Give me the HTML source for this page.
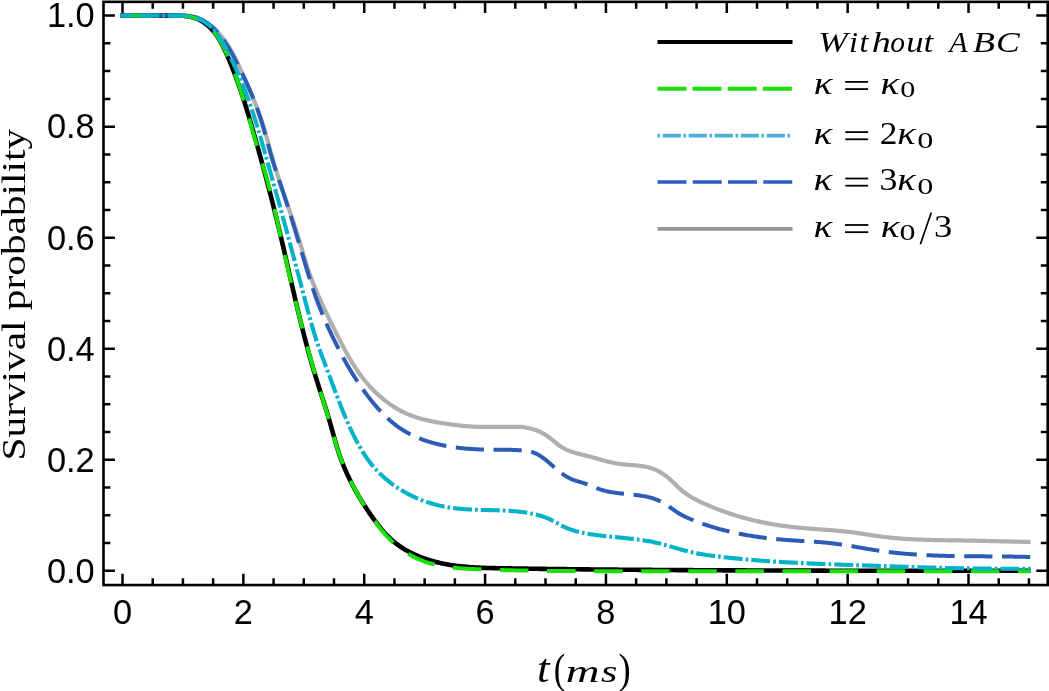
<!DOCTYPE html>
<html><head><meta charset="utf-8"><style>
html,body{margin:0;padding:0;background:#fff;}
svg{display:block;will-change:transform;} text{font-kerning:none;} .gs{opacity:0.999;}
.tk{font-family:"Liberation Sans",sans-serif;font-size:34.4px;fill:#000;}
.sf{font-family:"Liberation Serif",serif;fill:#000;}
</style></head><body>
<svg width="1049" height="691" viewBox="0 0 1049 691">
<rect width="1049" height="691" fill="#fff"/>
<g fill="none" stroke-linecap="butt" stroke-linejoin="round">
<path d="M120.40,15.60 L185.62,15.62 L186.87,15.68 L188.12,15.77 L189.36,15.90 L190.59,16.06 L191.82,16.26 L193.04,16.52 L194.25,16.82 L195.45,17.17 L196.64,17.56 L197.81,18.00 L198.98,18.49 L200.13,19.01 L201.27,19.56 L202.40,20.15 L203.51,20.78 L204.60,21.43 L205.68,22.11 L206.74,22.81 L207.79,23.54 L208.82,24.28 L209.83,25.05 L210.82,25.83 L211.79,26.62 L212.75,27.44 L213.68,28.27 L214.61,29.11 L215.51,29.97 L216.40,30.85 L217.27,31.73 L218.13,32.64 L218.97,33.55 L219.80,34.49 L220.61,35.43 L221.41,36.38 L222.20,37.35 L222.97,38.33 L223.73,39.32 L224.47,40.33 L225.20,41.34 L225.92,42.36 L226.63,43.40 L227.33,44.44 L228.02,45.50 L228.69,46.56 L229.36,47.63 L230.01,48.71 L230.66,49.80 L231.29,50.89 L231.92,52.00 L232.54,53.11 L233.14,54.22 L233.75,55.34 L234.34,56.47 L234.92,57.61 L235.50,58.74 L236.08,59.89 L236.64,61.03 L237.20,62.19 L237.75,63.34 L238.30,64.50 L238.84,65.66 L239.38,66.83 L239.92,67.99 L240.45,69.16 L240.97,70.33 L241.50,71.50 L242.02,72.67 L242.53,73.85 L243.05,75.02 L243.56,76.19 L244.07,77.36 L244.58,78.53 L245.09,79.70 L245.59,80.87 L246.10,82.03 L246.61,83.20 L247.11,84.36 L247.62,85.52 L248.12,86.68 L248.63,87.83 L249.13,88.99 L249.63,90.14 L250.13,91.30 L250.62,92.45 L251.12,93.61 L251.61,94.76 L252.10,95.91 L252.58,97.06 L253.07,98.22 L253.55,99.37 L254.03,100.52 L254.50,101.68 L254.97,102.83 L255.44,103.99 L255.91,105.15 L256.37,106.30 L256.82,107.46 L257.28,108.63 L257.72,109.79 L258.17,110.95 L258.60,112.12 L259.04,113.29 L259.47,114.46 L259.89,115.64 L260.31,116.81 L260.72,117.99 L261.12,119.18 L261.52,120.36 L261.92,121.55 L262.31,122.74 L262.69,123.94 L263.07,125.14 L263.44,126.34 L263.81,127.54 L264.18,128.75 L264.54,129.95 L264.89,131.17 L265.25,132.38 L265.60,133.59 L265.94,134.81 L266.29,136.02 L266.63,137.24 L266.97,138.46 L267.31,139.68 L267.65,140.90 L267.99,142.13 L268.32,143.35 L268.65,144.57 L268.99,145.80 L269.32,147.02 L269.66,148.24 L269.99,149.47 L270.33,150.69 L270.66,151.91 L271.00,153.14 L271.34,154.36 L271.68,155.58 L272.03,156.80 L272.37,158.02 L272.72,159.24 L273.07,160.46 L273.43,161.67 L273.79,162.89 L274.15,164.10 L274.51,165.31 L274.88,166.52 L275.25,167.73 L275.62,168.94 L275.99,170.14 L276.37,171.35 L276.75,172.55 L277.13,173.76 L277.51,174.96 L277.89,176.16 L278.28,177.36 L278.67,178.56 L279.06,179.76 L279.45,180.96 L279.85,182.16 L280.24,183.35 L280.64,184.55 L281.04,185.74 L281.44,186.94 L281.84,188.13 L282.24,189.33 L282.65,190.52 L283.05,191.71 L283.45,192.90 L283.86,194.10 L284.27,195.29 L284.67,196.48 L285.08,197.67 L285.49,198.86 L285.90,200.05 L286.31,201.24 L286.72,202.43 L287.12,203.62 L287.53,204.81 L287.94,206.00 L288.35,207.19 L288.76,208.39 L289.17,209.58 L289.58,210.77 L289.98,211.96 L290.39,213.15 L290.80,214.34 L291.20,215.53 L291.61,216.73 L292.01,217.92 L292.41,219.11 L292.81,220.31 L293.21,221.50 L293.61,222.70 L294.01,223.89 L294.41,225.09 L294.80,226.29 L295.19,227.48 L295.58,228.68 L295.97,229.88 L296.36,231.08 L296.75,232.28 L297.13,233.48 L297.51,234.69 L297.89,235.89 L298.27,237.10 L298.64,238.30 L299.02,239.51 L299.39,240.72 L299.75,241.93 L300.12,243.14 L300.48,244.35 L300.84,245.56 L301.20,246.77 L301.56,247.99 L301.92,249.20 L302.28,250.41 L302.64,251.63 L303.00,252.84 L303.36,254.06 L303.72,255.27 L304.08,256.48 L304.44,257.69 L304.81,258.91 L305.18,260.12 L305.55,261.33 L305.92,262.53 L306.29,263.74 L306.67,264.95 L307.05,266.15 L307.44,267.35 L307.83,268.56 L308.22,269.75 L308.62,270.95 L309.02,272.15 L309.43,273.34 L309.85,274.53 L310.27,275.72 L310.69,276.90 L311.13,278.09 L311.57,279.26 L312.01,280.44 L312.46,281.62 L312.92,282.79 L313.38,283.96 L313.85,285.12 L314.33,286.29 L314.81,287.45 L315.29,288.61 L315.78,289.77 L316.27,290.93 L316.77,292.08 L317.27,293.24 L317.78,294.39 L318.28,295.54 L318.80,296.69 L319.31,297.84 L319.83,298.98 L320.35,300.13 L320.87,301.27 L321.39,302.42 L321.92,303.56 L322.45,304.70 L322.98,305.85 L323.51,306.99 L324.05,308.13 L324.58,309.27 L325.12,310.41 L325.66,311.55 L326.20,312.68 L326.74,313.82 L327.29,314.96 L327.83,316.09 L328.38,317.23 L328.93,318.36 L329.48,319.50 L330.03,320.63 L330.59,321.76 L331.14,322.90 L331.70,324.03 L332.26,325.16 L332.82,326.29 L333.38,327.42 L333.94,328.55 L334.50,329.68 L335.07,330.81 L335.64,331.94 L336.20,333.06 L336.77,334.19 L337.34,335.32 L337.91,336.44 L338.49,337.57 L339.06,338.69 L339.64,339.82 L340.21,340.94 L340.79,342.06 L341.37,343.19 L341.96,344.31 L342.54,345.43 L343.13,346.54 L343.72,347.66 L344.32,348.77 L344.91,349.88 L345.52,350.99 L346.12,352.10 L346.73,353.21 L347.34,354.31 L347.96,355.41 L348.59,356.50 L349.21,357.60 L349.85,358.69 L350.49,359.77 L351.13,360.86 L351.78,361.94 L352.44,363.01 L353.10,364.08 L353.77,365.15 L354.45,366.21 L355.13,367.27 L355.82,368.32 L356.52,369.37 L357.22,370.42 L357.94,371.46 L358.66,372.49 L359.39,373.52 L360.13,374.54 L360.87,375.55 L361.63,376.56 L362.40,377.57 L363.17,378.57 L363.96,379.56 L364.75,380.54 L365.55,381.52 L366.37,382.49 L367.19,383.45 L368.02,384.41 L368.86,385.36 L369.71,386.30 L370.57,387.23 L371.43,388.16 L372.31,389.07 L373.20,389.98 L374.09,390.88 L374.99,391.77 L375.90,392.65 L376.82,393.52 L377.75,394.38 L378.69,395.23 L379.63,396.07 L380.58,396.90 L381.55,397.72 L382.52,398.54 L383.49,399.33 L384.48,400.12 L385.48,400.90 L386.48,401.67 L387.49,402.42 L388.51,403.17 L389.53,403.90 L390.57,404.62 L391.61,405.32 L392.66,406.02 L393.72,406.70 L394.78,407.37 L395.86,408.03 L396.94,408.67 L398.03,409.30 L399.12,409.91 L400.22,410.51 L401.33,411.10 L402.45,411.68 L403.58,412.23 L404.71,412.78 L405.85,413.31 L406.99,413.82 L408.15,414.32 L409.31,414.81 L410.47,415.28 L411.65,415.73 L412.83,416.17 L414.02,416.59 L415.21,416.99 L416.41,417.39 L417.61,417.77 L418.82,418.13 L420.04,418.49 L421.26,418.83 L422.48,419.16 L423.71,419.47 L424.94,419.78 L426.18,420.07 L427.42,420.36 L428.66,420.63 L429.90,420.90 L431.15,421.16 L432.40,421.40 L433.65,421.64 L434.90,421.88 L436.15,422.10 L437.41,422.32 L438.66,422.54 L439.92,422.74 L441.17,422.94 L442.43,423.14 L443.68,423.33 L444.94,423.52 L446.19,423.71 L447.44,423.89 L448.69,424.07 L449.94,424.25 L451.19,424.42 L452.44,424.59 L453.68,424.76 L454.93,424.92 L456.17,425.08 L457.42,425.23 L458.66,425.38 L459.90,425.52 L461.14,425.66 L462.39,425.79 L463.63,425.91 L464.88,426.03 L466.12,426.14 L467.37,426.25 L468.61,426.35 L469.86,426.44 L471.11,426.52 L472.36,426.59 L473.61,426.66 L474.87,426.71 L476.12,426.76 L477.38,426.80 L478.64,426.83 L479.90,426.85 L481.17,426.85 L482.43,426.85 L483.70,426.85 L484.97,426.85 L486.25,426.85 L487.52,426.85 L488.80,426.85 L490.07,426.85 L491.35,426.85 L492.63,426.85 L493.91,426.85 L495.19,426.85 L496.47,426.85 L497.75,426.85 L499.03,426.85 L500.31,426.85 L501.59,426.85 L502.87,426.85 L504.14,426.85 L505.42,426.85 L506.69,426.85 L507.97,426.85 L509.24,426.85 L510.51,426.85 L511.78,426.85 L513.04,426.85 L514.30,426.85 L515.56,426.85 L516.82,426.85 L518.07,426.85 L519.32,426.85 L520.57,426.85 L521.81,426.95 L523.05,427.11 L524.28,427.29 L525.51,427.49 L526.73,427.71 L527.95,427.96 L529.16,428.22 L530.36,428.51 L531.56,428.82 L532.75,429.15 L533.92,429.51 L535.09,429.89 L536.25,430.30 L537.40,430.74 L538.54,431.20 L539.67,431.70 L540.79,432.22 L541.89,432.77 L542.98,433.34 L544.06,433.95 L545.13,434.60 L546.18,435.27 L547.22,435.98 L548.24,436.71 L549.26,437.47 L550.26,438.25 L551.26,439.05 L552.26,439.86 L553.25,440.68 L554.24,441.49 L555.23,442.31 L556.23,443.12 L557.23,443.91 L558.24,444.69 L559.26,445.44 L560.30,446.17 L561.34,446.87 L562.41,447.54 L563.49,448.16 L564.59,448.75 L565.71,449.31 L566.84,449.84 L567.98,450.33 L569.13,450.80 L570.30,451.25 L571.48,451.67 L572.67,452.07 L573.86,452.45 L575.07,452.82 L576.28,453.17 L577.50,453.50 L578.72,453.83 L579.95,454.14 L581.17,454.45 L582.41,454.76 L583.64,455.06 L584.87,455.35 L586.11,455.65 L587.34,455.96 L588.57,456.26 L589.79,456.58 L591.01,456.90 L592.23,457.23 L593.44,457.56 L594.65,457.90 L595.86,458.24 L597.07,458.59 L598.28,458.93 L599.48,459.28 L600.69,459.62 L601.90,459.96 L603.10,460.30 L604.31,460.63 L605.52,460.96 L606.73,461.28 L607.95,461.59 L609.16,461.89 L610.38,462.18 L611.61,462.46 L612.84,462.73 L614.07,462.98 L615.32,463.21 L616.56,463.44 L617.81,463.64 L619.07,463.82 L620.34,463.99 L621.61,464.14 L622.89,464.29 L624.17,464.42 L625.45,464.54 L626.74,464.65 L628.02,464.76 L629.31,464.86 L630.60,464.97 L631.89,465.07 L633.17,465.18 L634.46,465.29 L635.74,465.40 L637.01,465.53 L638.29,465.66 L639.55,465.81 L640.81,465.97 L642.07,466.14 L643.32,466.34 L644.55,466.55 L645.78,466.78 L647.00,467.04 L648.21,467.32 L649.41,467.63 L650.59,467.97 L651.77,468.34 L652.93,468.74 L654.07,469.17 L655.20,469.64 L656.32,470.13 L657.43,470.66 L658.52,471.21 L659.60,471.79 L660.66,472.40 L661.71,473.04 L662.75,473.70 L663.77,474.38 L664.78,475.10 L665.77,475.83 L666.75,476.59 L667.72,477.37 L668.68,478.17 L669.62,479.00 L670.54,479.84 L671.46,480.69 L672.37,481.56 L673.28,482.44 L674.18,483.32 L675.08,484.21 L675.98,485.09 L676.89,485.98 L677.79,486.85 L678.71,487.72 L679.63,488.58 L680.57,489.42 L681.51,490.24 L682.48,491.04 L683.45,491.82 L684.45,492.57 L685.45,493.31 L686.48,494.02 L687.51,494.72 L688.56,495.40 L689.62,496.07 L690.69,496.72 L691.77,497.36 L692.86,497.99 L693.96,498.60 L695.07,499.20 L696.18,499.79 L697.31,500.37 L698.44,500.94 L699.58,501.49 L700.72,502.04 L701.87,502.58 L703.02,503.11 L704.18,503.64 L705.34,504.15 L706.50,504.66 L707.67,505.17 L708.84,505.67 L710.00,506.16 L711.17,506.65 L712.35,507.13 L713.52,507.61 L714.70,508.08 L715.87,508.54 L717.05,509.00 L718.23,509.45 L719.41,509.90 L720.60,510.34 L721.78,510.78 L722.97,511.21 L724.16,511.64 L725.35,512.06 L726.54,512.47 L727.74,512.88 L728.93,513.29 L730.13,513.69 L731.32,514.08 L732.52,514.47 L733.72,514.85 L734.93,515.23 L736.13,515.60 L737.34,515.96 L738.54,516.32 L739.75,516.68 L740.96,517.03 L742.17,517.37 L743.38,517.71 L744.60,518.05 L745.81,518.38 L747.03,518.70 L748.25,519.02 L749.46,519.33 L750.68,519.64 L751.91,519.94 L753.13,520.24 L754.35,520.53 L755.58,520.82 L756.80,521.10 L758.03,521.37 L759.26,521.65 L760.49,521.91 L761.72,522.17 L762.95,522.43 L764.18,522.68 L765.42,522.92 L766.65,523.16 L767.89,523.40 L769.13,523.63 L770.36,523.85 L771.60,524.07 L772.84,524.29 L774.09,524.50 L775.33,524.70 L776.57,524.90 L777.82,525.10 L779.06,525.29 L780.31,525.47 L781.55,525.65 L782.80,525.83 L784.05,526.00 L785.30,526.16 L786.55,526.32 L787.80,526.48 L789.05,526.63 L790.30,526.77 L791.56,526.92 L792.81,527.05 L794.07,527.19 L795.32,527.32 L796.58,527.44 L797.83,527.57 L799.09,527.69 L800.35,527.80 L801.61,527.92 L802.86,528.03 L804.12,528.14 L805.38,528.24 L806.64,528.35 L807.90,528.45 L809.16,528.55 L810.42,528.65 L811.68,528.75 L812.94,528.85 L814.21,528.94 L815.47,529.04 L816.73,529.13 L817.99,529.23 L819.25,529.32 L820.51,529.41 L821.77,529.51 L823.04,529.60 L824.30,529.70 L825.56,529.79 L826.82,529.89 L828.08,529.98 L829.34,530.08 L830.60,530.18 L831.86,530.28 L833.12,530.39 L834.38,530.49 L835.64,530.60 L836.90,530.71 L838.16,530.82 L839.42,530.94 L840.67,531.06 L841.93,531.18 L843.19,531.30 L844.44,531.43 L845.70,531.56 L846.95,531.70 L848.21,531.84 L849.46,531.98 L850.71,532.13 L851.96,532.28 L853.21,532.44 L854.46,532.60 L855.71,532.77 L856.96,532.94 L858.21,533.12 L859.46,533.30 L860.70,533.49 L861.95,533.68 L863.19,533.87 L864.44,534.06 L865.68,534.26 L866.93,534.45 L868.17,534.65 L869.42,534.84 L870.66,535.04 L871.91,535.23 L873.15,535.42 L874.40,535.61 L875.64,535.80 L876.89,535.98 L878.13,536.16 L879.38,536.33 L880.63,536.50 L881.88,536.66 L883.12,536.82 L884.37,536.97 L885.62,537.12 L886.88,537.26 L888.13,537.40 L889.38,537.53 L890.63,537.66 L891.88,537.79 L893.14,537.91 L894.39,538.03 L895.65,538.14 L896.90,538.25 L898.16,538.35 L899.41,538.46 L900.67,538.55 L901.93,538.65 L903.18,538.74 L904.44,538.82 L905.70,538.91 L906.96,538.99 L908.22,539.06 L909.48,539.13 L910.74,539.21 L912.00,539.27 L913.26,539.34 L914.52,539.40 L915.78,539.46 L917.04,539.51 L918.30,539.57 L919.56,539.62 L920.83,539.67 L922.09,539.71 L923.35,539.76 L924.61,539.80 L925.88,539.84 L927.14,539.88 L928.40,539.91 L929.67,539.95 L930.93,539.98 L932.19,540.01 L933.46,540.04 L934.72,540.07 L935.98,540.09 L937.25,540.12 L938.51,540.14 L939.78,540.17 L941.04,540.19 L942.30,540.21 L943.57,540.23 L944.83,540.25 L946.10,540.27 L947.36,540.29 L948.62,540.30 L949.89,540.32 L951.15,540.34 L952.42,540.36 L953.68,540.37 L954.94,540.39 L956.21,540.40 L957.47,540.42 L958.73,540.44 L960.00,540.45 L961.26,540.47 L962.52,540.49 L963.78,540.51 L965.05,540.53 L966.31,540.55 L967.57,540.57 L968.83,540.59 L970.09,540.61 L971.35,540.63 L972.61,540.66 L973.87,540.68 L975.13,540.71 L976.39,540.73 L977.65,540.76 L978.91,540.78 L980.17,540.81 L981.43,540.84 L982.69,540.87 L983.95,540.90 L985.21,540.93 L986.47,540.95 L987.73,540.98 L988.99,541.01 L990.25,541.05 L991.50,541.08 L992.76,541.11 L994.02,541.14 L995.28,541.17 L996.54,541.20 L997.80,541.23 L999.06,541.26 L1000.32,541.30 L1001.58,541.33 L1002.84,541.36 L1004.10,541.39 L1005.36,541.42 L1006.62,541.46 L1007.88,541.49 L1009.14,541.52 L1010.40,541.55 L1011.66,541.58 L1012.92,541.61 L1014.18,541.64 L1015.44,541.67 L1016.70,541.70 L1017.96,541.73 L1019.23,541.76 L1020.49,541.79 L1021.75,541.82 L1023.01,541.85 L1024.28,541.87 L1025.54,541.90 L1026.81,541.93 L1028.07,541.95 L1029.33,541.98 L1030.60,542.00" stroke="#afafaf" stroke-width="4.2"/>
<path d="M120.40,15.60 L180.43,15.64 L181.82,15.72 L183.21,15.81 L184.59,15.94 L185.97,16.09 L187.34,16.29 L188.70,16.52 L190.06,16.79 L191.39,17.09 L192.72,17.44 L194.03,17.82 L195.32,18.25 L196.59,18.71 L197.84,19.21 L199.06,19.75 L200.25,20.33 L201.42,20.96 L202.56,21.62 L203.67,22.32 L204.76,23.05 L205.81,23.83 L206.84,24.63 L207.85,25.48 L208.83,26.35 L209.79,27.25 L210.72,28.19 L211.63,29.15 L212.52,30.15 L213.39,31.17 L214.24,32.21 L215.06,33.28 L215.87,34.37 L216.66,35.49 L217.43,36.62 L218.18,37.78 L218.92,38.96 L219.64,40.15 L220.34,41.36 L221.03,42.58 L221.71,43.82 L222.37,45.08 L223.02,46.34 L223.65,47.62 L224.28,48.90 L224.89,50.19 L225.49,51.49 L226.09,52.80 L226.67,54.11 L227.25,55.43 L227.81,56.75 L228.37,58.07 L228.93,59.39 L229.48,60.72 L230.02,62.04 L230.56,63.35 L231.09,64.67 L231.61,65.99 L232.14,67.30 L232.65,68.62 L233.16,69.93 L233.67,71.25 L234.17,72.56 L234.67,73.87 L235.16,75.18 L235.65,76.49 L236.14,77.80 L236.62,79.10 L237.09,80.41 L237.56,81.72 L238.03,83.02 L238.49,84.33 L238.95,85.63 L239.41,86.94 L239.86,88.24 L240.31,89.54 L240.75,90.85 L241.19,92.15 L241.63,93.45 L242.06,94.75 L242.49,96.05 L242.92,97.36 L243.35,98.66 L243.77,99.96 L244.19,101.26 L244.60,102.56 L245.01,103.86 L245.42,105.16 L245.83,106.46 L246.24,107.76 L246.64,109.06 L247.04,110.36 L247.44,111.66 L247.83,112.96 L248.23,114.27 L248.62,115.57 L249.01,116.87 L249.40,118.17 L249.79,119.47 L250.17,120.78 L250.55,122.08 L250.94,123.38 L251.32,124.69 L251.70,125.99 L252.07,127.30 L252.45,128.61 L252.83,129.91 L253.20,131.22 L253.57,132.53 L253.95,133.84 L254.32,135.15 L254.69,136.46 L255.06,137.77 L255.43,139.08 L255.80,140.39 L256.17,141.71 L256.54,143.02 L256.91,144.34 L257.28,145.66 L257.65,146.98 L258.02,148.29 L258.38,149.61 L258.75,150.94 L259.12,152.26 L259.48,153.58 L259.85,154.90 L260.21,156.23 L260.58,157.55 L260.94,158.88 L261.31,160.20 L261.67,161.53 L262.03,162.86 L262.39,164.19 L262.75,165.51 L263.12,166.84 L263.48,168.17 L263.84,169.51 L264.19,170.84 L264.55,172.17 L264.91,173.50 L265.27,174.84 L265.63,176.17 L265.98,177.50 L266.34,178.84 L266.69,180.18 L267.04,181.51 L267.40,182.85 L267.75,184.18 L268.10,185.52 L268.45,186.86 L268.80,188.20 L269.15,189.54 L269.50,190.88 L269.85,192.22 L270.20,193.56 L270.54,194.90 L270.89,196.24 L271.23,197.58 L271.58,198.92 L271.92,200.26 L272.26,201.60 L272.60,202.95 L272.94,204.29 L273.28,205.63 L273.62,206.97 L273.96,208.32 L274.29,209.66 L274.63,211.00 L274.96,212.35 L275.30,213.69 L275.63,215.04 L275.96,216.38 L276.29,217.72 L276.62,219.07 L276.95,220.41 L277.28,221.76 L277.60,223.10 L277.93,224.45 L278.25,225.79 L278.57,227.13 L278.90,228.48 L279.22,229.82 L279.54,231.17 L279.86,232.51 L280.18,233.86 L280.49,235.20 L280.81,236.55 L281.13,237.89 L281.44,239.23 L281.76,240.58 L282.07,241.92 L282.38,243.27 L282.70,244.61 L283.01,245.96 L283.32,247.30 L283.63,248.64 L283.94,249.99 L284.25,251.33 L284.56,252.68 L284.87,254.02 L285.18,255.36 L285.49,256.71 L285.79,258.05 L286.10,259.40 L286.41,260.74 L286.72,262.08 L287.02,263.43 L287.33,264.77 L287.64,266.11 L287.94,267.46 L288.25,268.80 L288.56,270.14 L288.86,271.48 L289.17,272.83 L289.48,274.17 L289.78,275.51 L290.09,276.85 L290.40,278.20 L290.70,279.54 L291.01,280.88 L291.32,282.22 L291.63,283.56 L291.94,284.90 L292.24,286.24 L292.55,287.59 L292.86,288.93 L293.17,290.27 L293.48,291.61 L293.79,292.95 L294.10,294.29 L294.42,295.63 L294.73,296.97 L295.04,298.31 L295.36,299.65 L295.67,300.99 L295.98,302.32 L296.30,303.66 L296.62,305.00 L296.93,306.34 L297.25,307.68 L297.57,309.02 L297.89,310.35 L298.21,311.69 L298.53,313.03 L298.86,314.36 L299.18,315.70 L299.50,317.04 L299.83,318.37 L300.16,319.71 L300.49,321.04 L300.81,322.38 L301.15,323.71 L301.48,325.05 L301.81,326.38 L302.14,327.72 L302.48,329.05 L302.82,330.38 L303.15,331.72 L303.49,333.05 L303.84,334.38 L304.18,335.71 L304.52,337.05 L304.87,338.38 L305.22,339.71 L305.56,341.04 L305.92,342.37 L306.27,343.70 L306.62,345.03 L306.98,346.36 L307.33,347.69 L307.69,349.02 L308.05,350.35 L308.42,351.68 L308.78,353.00 L309.15,354.33 L309.52,355.66 L309.89,356.98 L310.26,358.31 L310.63,359.64 L311.01,360.96 L311.39,362.29 L311.77,363.61 L312.15,364.94 L312.54,366.26 L312.93,367.58 L313.32,368.91 L313.71,370.23 L314.10,371.55 L314.50,372.87 L314.90,374.19 L315.30,375.52 L315.70,376.84 L316.11,378.16 L316.52,379.48 L316.93,380.80 L317.34,382.11 L317.76,383.43 L318.17,384.75 L318.59,386.07 L319.01,387.39 L319.43,388.70 L319.85,390.02 L320.28,391.34 L320.70,392.66 L321.12,393.97 L321.55,395.29 L321.97,396.61 L322.39,397.92 L322.82,399.24 L323.24,400.56 L323.66,401.88 L324.08,403.20 L324.50,404.51 L324.92,405.83 L325.33,407.15 L325.75,408.47 L326.16,409.79 L326.57,411.11 L326.98,412.43 L327.39,413.75 L327.79,415.07 L328.19,416.40 L328.59,417.72 L328.98,419.04 L329.37,420.37 L329.76,421.69 L330.14,423.02 L330.52,424.35 L330.89,425.67 L331.27,427.00 L331.64,428.33 L332.01,429.66 L332.38,430.98 L332.75,432.31 L333.11,433.64 L333.48,434.97 L333.85,436.29 L334.22,437.62 L334.60,438.94 L334.97,440.27 L335.35,441.59 L335.73,442.91 L336.12,444.23 L336.51,445.55 L336.91,446.86 L337.31,448.18 L337.72,449.49 L338.13,450.80 L338.55,452.10 L338.98,453.41 L339.42,454.71 L339.87,456.00 L340.32,457.30 L340.79,458.59 L341.26,459.88 L341.75,461.17 L342.24,462.45 L342.74,463.73 L343.25,465.00 L343.77,466.28 L344.30,467.55 L344.83,468.81 L345.38,470.08 L345.93,471.34 L346.49,472.59 L347.06,473.85 L347.63,475.10 L348.22,476.35 L348.81,477.59 L349.41,478.83 L350.01,480.07 L350.63,481.30 L351.25,482.53 L351.88,483.76 L352.51,484.99 L353.16,486.21 L353.81,487.43 L354.47,488.64 L355.13,489.85 L355.80,491.06 L356.48,492.27 L357.16,493.47 L357.85,494.66 L358.55,495.86 L359.25,497.05 L359.96,498.24 L360.67,499.42 L361.39,500.60 L362.12,501.78 L362.85,502.96 L363.59,504.13 L364.33,505.30 L365.08,506.46 L365.84,507.62 L366.60,508.78 L367.36,509.93 L368.13,511.08 L368.91,512.23 L369.68,513.37 L370.47,514.51 L371.26,515.65 L372.05,516.78 L372.85,517.91 L373.66,519.03 L374.47,520.15 L375.28,521.27 L376.11,522.37 L376.94,523.47 L377.78,524.57 L378.62,525.65 L379.48,526.73 L380.34,527.80 L381.22,528.86 L382.10,529.90 L383.00,530.94 L383.90,531.97 L384.82,532.99 L385.75,533.99 L386.69,534.98 L387.64,535.96 L388.60,536.92 L389.58,537.87 L390.57,538.81 L391.58,539.73 L392.60,540.64 L393.64,541.53 L394.69,542.40 L395.76,543.25 L396.84,544.09 L397.94,544.91 L399.06,545.72 L400.19,546.50 L401.33,547.27 L402.49,548.02 L403.66,548.75 L404.84,549.47 L406.04,550.17 L407.25,550.85 L408.47,551.52 L409.70,552.17 L410.93,552.80 L412.18,553.42 L413.44,554.02 L414.71,554.60 L415.98,555.17 L417.26,555.73 L418.55,556.27 L419.84,556.79 L421.14,557.30 L422.45,557.79 L423.75,558.27 L425.07,558.73 L426.38,559.18 L427.70,559.61 L429.02,560.03 L430.35,560.43 L431.67,560.82 L433.00,561.20 L434.33,561.56 L435.66,561.91 L437.00,562.25 L438.34,562.57 L439.67,562.88 L441.01,563.18 L442.36,563.47 L443.70,563.74 L445.05,564.01 L446.39,564.26 L447.74,564.50 L449.09,564.73 L450.45,564.95 L451.80,565.16 L453.16,565.36 L454.51,565.56 L455.87,565.74 L457.23,565.91 L458.59,566.07 L459.96,566.23 L461.32,566.38 L462.68,566.52 L464.05,566.65 L465.42,566.77 L466.79,566.89 L468.15,567.00 L469.53,567.11 L470.90,567.20 L472.27,567.29 L473.64,567.38 L475.02,567.46 L476.39,567.53 L477.77,567.60 L479.14,567.67 L480.52,567.73 L481.90,567.78 L483.27,567.83 L484.65,567.88 L486.03,567.93 L487.41,567.97 L488.79,568.00 L490.17,568.04 L491.55,568.07 L492.93,568.10 L494.31,568.13 L495.69,568.16 L497.08,568.19 L498.46,568.21 L499.84,568.23 L501.22,568.26 L502.60,568.28 L503.98,568.30 L505.36,568.33 L506.74,568.35 L508.13,568.37 L509.51,568.39 L510.89,568.42 L512.27,568.44 L513.65,568.46 L515.03,568.48 L516.41,568.50 L517.79,568.52 L519.17,568.54 L520.55,568.57 L521.93,568.59 L523.31,568.61 L524.69,568.63 L526.07,568.65 L527.45,568.67 L528.83,568.69 L530.21,568.71 L531.59,568.73 L532.97,568.74 L534.35,568.76 L535.73,568.78 L537.11,568.80 L538.49,568.82 L539.87,568.84 L541.25,568.86 L542.63,568.88 L544.01,568.89 L545.39,568.91 L546.77,568.93 L548.15,568.95 L549.53,568.97 L550.91,568.98 L552.29,569.00 L553.67,569.02 L555.05,569.03 L556.43,569.05 L557.81,569.07 L559.18,569.08 L560.56,569.10 L561.94,569.12 L563.32,569.13 L564.70,569.15 L566.08,569.16 L567.46,569.18 L568.84,569.20 L570.22,569.21 L571.59,569.23 L572.97,569.24 L574.35,569.26 L575.73,569.27 L577.11,569.29 L578.49,569.30 L579.87,569.32 L581.25,569.33 L582.62,569.34 L584.00,569.36 L585.38,569.37 L586.76,569.39 L588.14,569.40 L589.52,569.41 L590.89,569.43 L592.27,569.44 L593.65,569.45 L595.03,569.47 L596.41,569.48 L597.79,569.49 L599.16,569.51 L600.54,569.52 L601.92,569.53 L603.30,569.54 L604.68,569.56 L606.05,569.57 L607.43,569.58 L608.81,569.59 L610.19,569.61 L611.57,569.62 L612.94,569.63 L614.32,569.64 L615.70,569.65 L617.08,569.66 L618.46,569.68 L619.83,569.69 L621.21,569.70 L622.59,569.71 L623.97,569.72 L625.35,569.73 L626.72,569.74 L628.10,569.75 L629.48,569.76 L630.86,569.77 L632.24,569.78 L633.61,569.79 L634.99,569.81 L636.37,569.82 L637.75,569.83 L639.12,569.84 L640.50,569.85 L641.88,569.86 L643.26,569.87 L644.64,569.88 L646.01,569.88 L647.39,569.89 L648.77,569.90 L650.15,569.91 L651.52,569.92 L652.90,569.93 L654.28,569.94 L655.66,569.95 L657.04,569.96 L658.41,569.97 L659.79,569.98 L661.17,569.99 L662.55,569.99 L663.92,570.00 L665.30,570.01 L666.68,570.02 L668.06,570.03 L669.44,570.04 L670.81,570.05 L672.19,570.05 L673.57,570.06 L674.95,570.07 L676.32,570.08 L677.70,570.09 L679.08,570.10 L680.46,570.10 L681.84,570.11 L683.21,570.12 L684.59,570.13 L685.97,570.14 L687.35,570.14 L688.73,570.15 L690.10,570.16 L691.48,570.17 L692.86,570.17 L694.24,570.18 L695.62,570.19 L696.99,570.20 L698.37,570.20 L699.75,570.21 L701.13,570.22 L702.51,570.22 L703.89,570.23 L705.26,570.24 L706.64,570.25 L708.02,570.25 L709.40,570.26 L710.78,570.27 L712.15,570.27 L713.53,570.28 L714.91,570.29 L716.29,570.29 L717.67,570.30 L719.05,570.31 L720.42,570.31 L721.80,570.32 L723.18,570.33 L724.56,570.33 L725.94,570.34 L727.32,570.34 L728.69,570.35 L730.07,570.36 L731.45,570.36 L732.83,570.37 L734.21,570.38 L735.59,570.38 L736.96,570.39 L738.34,570.39 L739.72,570.40 L741.10,570.40 L742.48,570.41 L743.86,570.42 L745.23,570.42 L746.61,570.43 L747.99,570.43 L749.37,570.44 L750.75,570.44 L752.13,570.45 L753.50,570.45 L754.88,570.46 L756.26,570.47 L757.64,570.47 L759.02,570.48 L760.40,570.48 L761.78,570.49 L763.15,570.49 L764.53,570.50 L765.91,570.50 L767.29,570.51 L768.67,570.51 L770.05,570.52 L771.43,570.52 L772.80,570.53 L774.18,570.53 L775.56,570.53 L776.94,570.54 L778.32,570.54 L779.70,570.55 L781.08,570.55 L782.45,570.56 L783.83,570.56 L785.21,570.57 L786.59,570.57 L787.97,570.57 L789.35,570.58 L790.73,570.58 L792.11,570.59 L793.48,570.59 L794.86,570.60 L796.24,570.60 L797.62,570.60 L799.00,570.61 L800.38,570.61 L801.76,570.61 L803.13,570.62 L804.51,570.62 L805.89,570.63 L807.27,570.63 L808.65,570.63 L810.03,570.64 L811.41,570.64 L812.79,570.64 L814.16,570.65 L815.54,570.65 L816.92,570.65 L818.30,570.66 L819.68,570.66 L821.06,570.66 L822.44,570.67 L823.82,570.67 L825.19,570.67 L826.57,570.68 L827.95,570.68 L829.33,570.68 L830.71,570.69 L832.09,570.69 L833.47,570.69 L834.85,570.69 L836.22,570.70 L837.60,570.70 L838.98,570.70 L840.36,570.71 L841.74,570.71 L843.12,570.71 L844.50,570.71 L845.88,570.72 L847.26,570.72 L848.63,570.72 L850.01,570.72 L851.39,570.73 L852.77,570.73 L854.15,570.73 L855.53,570.73 L856.91,570.74 L858.29,570.74 L859.66,570.74 L861.04,570.74 L862.42,570.75 L863.80,570.75 L865.18,570.75 L866.56,570.75 L867.94,570.75 L869.32,570.76 L870.69,570.76 L872.07,570.76 L873.45,570.76 L874.83,570.76 L876.21,570.77 L877.59,570.77 L878.97,570.77 L880.35,570.77 L881.72,570.77 L883.10,570.77 L884.48,570.78 L885.86,570.78 L887.24,570.78 L888.62,570.78 L890.00,570.78 L891.38,570.78 L892.76,570.79 L894.13,570.79 L895.51,570.79 L896.89,570.79 L898.27,570.79 L899.65,570.79 L901.03,570.79 L902.41,570.79 L903.78,570.80 L905.16,570.80 L906.54,570.80 L907.92,570.80 L909.30,570.80 L910.68,570.80 L912.06,570.80 L913.44,570.80 L914.81,570.80 L916.19,570.81 L917.57,570.81 L918.95,570.81 L920.33,570.81 L921.71,570.81 L923.09,570.81 L924.47,570.81 L925.84,570.81 L927.22,570.81 L928.60,570.81 L929.98,570.81 L931.36,570.81 L932.74,570.81 L934.12,570.82 L935.49,570.82 L936.87,570.82 L938.25,570.82 L939.63,570.82 L941.01,570.82 L942.39,570.82 L943.77,570.82 L945.14,570.82 L946.52,570.82 L947.90,570.82 L949.28,570.82 L950.66,570.82 L952.04,570.82 L953.42,570.82 L954.79,570.82 L956.17,570.82 L957.55,570.82 L958.93,570.82 L960.31,570.82 L961.69,570.82 L963.07,570.82 L964.44,570.82 L965.82,570.82 L967.20,570.82 L968.58,570.82 L969.96,570.82 L971.34,570.82 L972.72,570.82 L974.09,570.82 L975.47,570.82 L976.85,570.82 L978.23,570.82 L979.61,570.82 L980.99,570.82 L982.36,570.82 L983.74,570.82 L985.12,570.82 L986.50,570.82 L987.88,570.82 L989.26,570.82 L990.63,570.82 L992.01,570.82 L993.39,570.82 L994.77,570.82 L996.15,570.82 L997.53,570.82 L998.90,570.82 L1000.28,570.82 L1001.66,570.82 L1003.04,570.82 L1004.42,570.82 L1005.79,570.82 L1007.17,570.82 L1008.55,570.82 L1009.93,570.82 L1011.31,570.82 L1012.69,570.82 L1014.06,570.82 L1015.44,570.82 L1016.82,570.82 L1018.20,570.82 L1019.58,570.82 L1020.95,570.82 L1022.33,570.82 L1023.71,570.82 L1025.09,570.82 L1026.47,570.82 L1027.84,570.82 L1029.22,570.82 L1030.60,570.80" stroke="#000" stroke-width="4.6"/>
<path d="M120.40,15.60 L184.77,15.62 L186.04,15.68 L187.31,15.77 L188.57,15.88 L189.83,16.04 L191.08,16.23 L192.33,16.47 L193.57,16.75 L194.80,17.08 L196.02,17.45 L197.23,17.87 L198.43,18.32 L199.62,18.81 L200.80,19.34 L201.96,19.91 L203.10,20.50 L204.22,21.13 L205.33,21.79 L206.42,22.48 L207.48,23.19 L208.53,23.93 L209.54,24.69 L210.54,25.47 L211.52,26.28 L212.47,27.11 L213.41,27.95 L214.32,28.82 L215.22,29.71 L216.09,30.61 L216.95,31.54 L217.79,32.48 L218.62,33.43 L219.43,34.40 L220.22,35.39 L221.00,36.39 L221.76,37.41 L222.52,38.43 L223.25,39.47 L223.98,40.52 L224.69,41.58 L225.39,42.65 L226.08,43.73 L226.77,44.82 L227.44,45.92 L228.10,47.02 L228.76,48.13 L229.41,49.25 L230.05,50.37 L230.68,51.49 L231.31,52.62 L231.94,53.75 L232.55,54.88 L233.17,56.01 L233.78,57.15 L234.39,58.28 L235.00,59.42 L235.60,60.56 L236.20,61.70 L236.80,62.83 L237.39,63.97 L237.98,65.11 L238.56,66.25 L239.14,67.40 L239.72,68.54 L240.30,69.68 L240.87,70.83 L241.44,71.98 L242.00,73.12 L242.56,74.27 L243.11,75.42 L243.67,76.57 L244.21,77.72 L244.76,78.88 L245.30,80.03 L245.84,81.19 L246.37,82.35 L246.90,83.50 L247.42,84.66 L247.94,85.82 L248.46,86.99 L248.97,88.15 L249.48,89.32 L249.98,90.49 L250.48,91.65 L250.97,92.82 L251.46,94.00 L251.95,95.17 L252.43,96.35 L252.91,97.52 L253.38,98.70 L253.85,99.88 L254.31,101.07 L254.77,102.25 L255.23,103.44 L255.68,104.62 L256.12,105.81 L256.56,107.01 L257.00,108.20 L257.43,109.39 L257.85,110.59 L258.27,111.79 L258.69,112.99 L259.10,114.20 L259.51,115.40 L259.91,116.61 L260.31,117.82 L260.70,119.04 L261.08,120.25 L261.46,121.47 L261.84,122.69 L262.21,123.91 L262.58,125.13 L262.94,126.36 L263.30,127.58 L263.66,128.81 L264.01,130.04 L264.36,131.27 L264.71,132.50 L265.06,133.74 L265.40,134.97 L265.75,136.21 L266.09,137.44 L266.43,138.68 L266.77,139.91 L267.11,141.15 L267.45,142.38 L267.79,143.62 L268.13,144.85 L268.47,146.09 L268.81,147.32 L269.15,148.56 L269.50,149.79 L269.84,151.03 L270.19,152.26 L270.54,153.49 L270.90,154.72 L271.26,155.95 L271.62,157.17 L271.98,158.40 L272.35,159.62 L272.72,160.84 L273.10,162.06 L273.48,163.28 L273.86,164.50 L274.25,165.71 L274.64,166.92 L275.03,168.14 L275.43,169.35 L275.83,170.56 L276.23,171.77 L276.63,172.97 L277.03,174.18 L277.44,175.39 L277.85,176.59 L278.26,177.80 L278.66,179.01 L279.07,180.21 L279.48,181.42 L279.89,182.62 L280.30,183.83 L280.71,185.03 L281.12,186.24 L281.53,187.45 L281.94,188.65 L282.34,189.86 L282.75,191.07 L283.15,192.28 L283.55,193.49 L283.95,194.70 L284.35,195.91 L284.75,197.12 L285.14,198.33 L285.54,199.55 L285.93,200.76 L286.32,201.98 L286.71,203.19 L287.10,204.41 L287.49,205.62 L287.88,206.84 L288.26,208.06 L288.65,209.28 L289.03,210.50 L289.41,211.71 L289.79,212.93 L290.17,214.15 L290.55,215.37 L290.93,216.59 L291.31,217.81 L291.69,219.04 L292.06,220.26 L292.44,221.48 L292.81,222.70 L293.18,223.92 L293.56,225.15 L293.93,226.37 L294.30,227.59 L294.67,228.82 L295.04,230.04 L295.41,231.26 L295.78,232.49 L296.15,233.71 L296.52,234.94 L296.89,236.16 L297.25,237.39 L297.62,238.61 L297.99,239.83 L298.35,241.06 L298.72,242.28 L299.09,243.51 L299.45,244.73 L299.82,245.96 L300.18,247.18 L300.55,248.40 L300.91,249.63 L301.28,250.85 L301.64,252.08 L302.01,253.30 L302.37,254.52 L302.74,255.75 L303.11,256.97 L303.47,258.19 L303.84,259.41 L304.20,260.63 L304.57,261.86 L304.93,263.08 L305.30,264.30 L305.67,265.52 L306.04,266.74 L306.40,267.96 L306.77,269.18 L307.14,270.40 L307.51,271.62 L307.88,272.83 L308.25,274.05 L308.63,275.27 L309.00,276.49 L309.38,277.70 L309.76,278.92 L310.14,280.13 L310.52,281.34 L310.91,282.56 L311.30,283.77 L311.69,284.98 L312.08,286.19 L312.48,287.40 L312.87,288.61 L313.28,289.82 L313.68,291.02 L314.09,292.23 L314.51,293.43 L314.93,294.64 L315.35,295.84 L315.77,297.04 L316.20,298.24 L316.64,299.44 L317.08,300.64 L317.52,301.84 L317.97,303.03 L318.43,304.23 L318.89,305.42 L319.35,306.61 L319.81,307.80 L320.28,308.99 L320.76,310.18 L321.24,311.37 L321.72,312.55 L322.21,313.74 L322.70,314.92 L323.19,316.10 L323.69,317.28 L324.20,318.46 L324.70,319.64 L325.21,320.81 L325.72,321.99 L326.24,323.16 L326.76,324.33 L327.29,325.50 L327.81,326.67 L328.34,327.83 L328.88,329.00 L329.41,330.16 L329.95,331.32 L330.50,332.48 L331.04,333.64 L331.59,334.80 L332.14,335.95 L332.70,337.10 L333.25,338.26 L333.81,339.40 L334.37,340.55 L334.94,341.70 L335.51,342.84 L336.08,343.98 L336.65,345.12 L337.23,346.26 L337.80,347.40 L338.38,348.53 L338.97,349.66 L339.56,350.79 L340.15,351.92 L340.74,353.05 L341.33,354.17 L341.93,355.29 L342.54,356.41 L343.14,357.53 L343.75,358.64 L344.36,359.76 L344.98,360.87 L345.60,361.98 L346.23,363.08 L346.85,364.19 L347.49,365.29 L348.12,366.39 L348.76,367.48 L349.41,368.58 L350.05,369.67 L350.71,370.76 L351.36,371.85 L352.03,372.93 L352.69,374.01 L353.36,375.09 L354.04,376.17 L354.72,377.24 L355.40,378.31 L356.09,379.38 L356.78,380.45 L357.48,381.51 L358.19,382.57 L358.90,383.63 L359.61,384.69 L360.33,385.74 L361.06,386.79 L361.79,387.84 L362.53,388.88 L363.27,389.92 L364.02,390.96 L364.77,392.00 L365.53,393.03 L366.29,394.06 L367.06,395.08 L367.84,396.11 L368.62,397.13 L369.41,398.14 L370.21,399.16 L371.01,400.17 L371.82,401.17 L372.63,402.18 L373.46,403.17 L374.28,404.17 L375.12,405.15 L375.96,406.14 L376.81,407.11 L377.66,408.08 L378.53,409.04 L379.40,410.00 L380.27,410.95 L381.16,411.89 L382.05,412.82 L382.95,413.74 L383.85,414.66 L384.77,415.57 L385.69,416.46 L386.62,417.35 L387.56,418.22 L388.50,419.09 L389.45,419.94 L390.42,420.79 L391.38,421.62 L392.36,422.44 L393.35,423.24 L394.34,424.04 L395.35,424.82 L396.36,425.59 L397.38,426.34 L398.41,427.08 L399.44,427.80 L400.49,428.51 L401.54,429.21 L402.61,429.89 L403.68,430.55 L404.76,431.21 L405.85,431.84 L406.95,432.47 L408.05,433.07 L409.16,433.67 L410.28,434.25 L411.41,434.82 L412.54,435.37 L413.68,435.91 L414.83,436.44 L415.98,436.96 L417.14,437.46 L418.31,437.95 L419.48,438.42 L420.66,438.89 L421.85,439.34 L423.04,439.78 L424.24,440.21 L425.44,440.62 L426.64,441.03 L427.86,441.42 L429.07,441.80 L430.29,442.17 L431.52,442.53 L432.75,442.88 L433.98,443.21 L435.22,443.54 L436.46,443.86 L437.71,444.16 L438.96,444.46 L440.21,444.74 L441.47,445.02 L442.73,445.28 L443.99,445.54 L445.25,445.79 L446.52,446.02 L447.79,446.25 L449.06,446.47 L450.34,446.68 L451.61,446.88 L452.89,447.07 L454.17,447.26 L455.45,447.43 L456.73,447.60 L458.02,447.76 L459.30,447.91 L460.58,448.06 L461.87,448.19 L463.15,448.32 L464.44,448.45 L465.73,448.56 L467.01,448.67 L468.30,448.77 L469.58,448.86 L470.87,448.95 L472.15,449.03 L473.44,449.11 L474.72,449.17 L476.00,449.24 L477.28,449.29 L478.56,449.34 L479.84,449.39 L481.11,449.43 L482.38,449.47 L483.65,449.50 L484.92,449.52 L486.19,449.55 L487.46,449.57 L488.73,449.58 L489.99,449.60 L491.26,449.61 L492.52,449.62 L493.79,449.63 L495.05,449.64 L496.31,449.64 L497.58,449.65 L498.84,449.66 L500.11,449.67 L501.37,449.68 L502.64,449.69 L503.90,449.71 L505.17,449.73 L506.44,449.75 L507.71,449.77 L508.98,449.80 L510.26,449.83 L511.53,449.87 L512.81,449.91 L514.09,449.96 L515.37,450.01 L516.65,450.07 L517.94,450.14 L519.23,450.22 L520.52,450.30 L521.82,450.39 L523.11,450.50 L524.40,450.62 L525.69,450.77 L526.96,450.95 L528.23,451.16 L529.48,451.40 L530.72,451.69 L531.93,452.02 L533.13,452.40 L534.30,452.83 L535.45,453.32 L536.58,453.84 L537.70,454.41 L538.79,455.02 L539.87,455.67 L540.93,456.35 L541.98,457.06 L543.02,457.80 L544.04,458.57 L545.05,459.35 L546.06,460.16 L547.05,460.98 L548.04,461.82 L549.02,462.67 L550.00,463.52 L550.97,464.38 L551.94,465.25 L552.91,466.11 L553.88,466.96 L554.85,467.81 L555.83,468.65 L556.80,469.48 L557.78,470.30 L558.77,471.11 L559.77,471.90 L560.77,472.67 L561.78,473.43 L562.80,474.16 L563.83,474.87 L564.88,475.56 L565.94,476.22 L567.01,476.86 L568.10,477.47 L569.21,478.04 L570.33,478.58 L571.47,479.09 L572.64,479.57 L573.82,480.01 L575.01,480.43 L576.22,480.83 L577.43,481.22 L578.66,481.60 L579.89,481.96 L581.12,482.33 L582.35,482.70 L583.58,483.08 L584.81,483.47 L586.03,483.87 L587.24,484.30 L588.45,484.74 L589.64,485.21 L590.83,485.69 L592.02,486.18 L593.20,486.67 L594.38,487.16 L595.57,487.65 L596.75,488.13 L597.94,488.59 L599.14,489.03 L600.34,489.45 L601.55,489.84 L602.77,490.21 L604.00,490.55 L605.24,490.87 L606.48,491.17 L607.73,491.45 L608.99,491.71 L610.25,491.95 L611.51,492.18 L612.78,492.39 L614.06,492.59 L615.34,492.77 L616.62,492.95 L617.90,493.11 L619.19,493.27 L620.48,493.41 L621.77,493.55 L623.06,493.69 L624.36,493.82 L625.65,493.94 L626.94,494.07 L628.24,494.19 L629.53,494.32 L630.82,494.45 L632.10,494.58 L633.39,494.71 L634.67,494.85 L635.95,495.00 L637.23,495.16 L638.50,495.32 L639.77,495.50 L641.03,495.68 L642.29,495.88 L643.54,496.10 L644.78,496.33 L646.02,496.58 L647.25,496.84 L648.47,497.12 L649.69,497.43 L650.89,497.75 L652.09,498.10 L653.28,498.47 L654.46,498.87 L655.62,499.29 L656.78,499.74 L657.93,500.22 L659.06,500.73 L660.18,501.27 L661.29,501.84 L662.39,502.45 L663.48,503.08 L664.56,503.73 L665.63,504.41 L666.70,505.10 L667.76,505.81 L668.81,506.53 L669.87,507.26 L670.92,507.99 L671.97,508.72 L673.03,509.46 L674.08,510.19 L675.14,510.91 L676.21,511.63 L677.28,512.33 L678.36,513.01 L679.45,513.67 L680.55,514.31 L681.65,514.93 L682.77,515.53 L683.90,516.11 L685.03,516.67 L686.18,517.22 L687.32,517.75 L688.48,518.27 L689.64,518.77 L690.81,519.26 L691.98,519.75 L693.15,520.22 L694.33,520.69 L695.51,521.15 L696.69,521.61 L697.87,522.06 L699.06,522.50 L700.25,522.94 L701.45,523.37 L702.64,523.79 L703.84,524.20 L705.04,524.62 L706.25,525.02 L707.45,525.42 L708.66,525.81 L709.87,526.20 L711.09,526.58 L712.30,526.95 L713.52,527.32 L714.74,527.68 L715.96,528.04 L717.19,528.39 L718.42,528.73 L719.65,529.07 L720.88,529.40 L722.11,529.73 L723.34,530.05 L724.58,530.37 L725.82,530.68 L727.06,530.99 L728.30,531.29 L729.54,531.58 L730.79,531.87 L732.04,532.15 L733.29,532.43 L734.54,532.71 L735.79,532.97 L737.04,533.24 L738.29,533.50 L739.55,533.75 L740.81,534.00 L742.07,534.24 L743.33,534.48 L744.59,534.71 L745.85,534.94 L747.11,535.17 L748.37,535.38 L749.64,535.60 L750.91,535.81 L752.17,536.01 L753.44,536.21 L754.71,536.41 L755.98,536.60 L757.25,536.79 L758.52,536.97 L759.79,537.15 L761.06,537.33 L762.33,537.50 L763.61,537.66 L764.88,537.82 L766.15,537.98 L767.43,538.14 L768.70,538.29 L769.98,538.43 L771.25,538.57 L772.53,538.71 L773.80,538.84 L775.08,538.97 L776.35,539.10 L777.63,539.22 L778.91,539.34 L780.18,539.46 L781.46,539.57 L782.73,539.68 L784.01,539.78 L785.28,539.88 L786.56,539.98 L787.83,540.08 L789.11,540.17 L790.38,540.26 L791.65,540.34 L792.93,540.43 L794.20,540.51 L795.47,540.59 L796.74,540.67 L798.02,540.75 L799.29,540.82 L800.56,540.90 L801.83,540.97 L803.10,541.05 L804.37,541.12 L805.64,541.20 L806.91,541.27 L808.18,541.35 L809.45,541.43 L810.72,541.51 L811.98,541.59 L813.25,541.67 L814.52,541.76 L815.79,541.85 L817.06,541.94 L818.32,542.03 L819.59,542.13 L820.86,542.23 L822.12,542.33 L823.39,542.44 L824.65,542.55 L825.92,542.67 L827.18,542.79 L828.45,542.92 L829.71,543.05 L830.98,543.19 L832.24,543.34 L833.50,543.49 L834.76,543.64 L836.03,543.81 L837.29,543.97 L838.55,544.15 L839.81,544.32 L841.08,544.51 L842.34,544.69 L843.60,544.88 L844.86,545.08 L846.12,545.27 L847.38,545.48 L848.64,545.68 L849.91,545.89 L851.17,546.10 L852.43,546.31 L853.69,546.52 L854.95,546.73 L856.21,546.95 L857.47,547.16 L858.73,547.38 L859.99,547.60 L861.25,547.82 L862.51,548.03 L863.78,548.25 L865.04,548.47 L866.30,548.68 L867.56,548.89 L868.82,549.11 L870.08,549.31 L871.35,549.52 L872.61,549.73 L873.87,549.93 L875.14,550.13 L876.40,550.32 L877.66,550.52 L878.93,550.70 L880.19,550.89 L881.46,551.07 L882.72,551.24 L883.99,551.42 L885.25,551.58 L886.52,551.75 L887.79,551.91 L889.05,552.06 L890.32,552.21 L891.59,552.36 L892.85,552.51 L894.12,552.65 L895.39,552.79 L896.66,552.92 L897.93,553.05 L899.20,553.18 L900.47,553.30 L901.74,553.42 L903.01,553.54 L904.28,553.65 L905.55,553.76 L906.82,553.87 L908.09,553.97 L909.36,554.07 L910.63,554.17 L911.90,554.26 L913.18,554.35 L914.45,554.44 L915.72,554.53 L916.99,554.61 L918.27,554.69 L919.54,554.77 L920.81,554.85 L922.09,554.92 L923.36,554.99 L924.63,555.06 L925.91,555.12 L927.18,555.18 L928.46,555.24 L929.73,555.30 L931.01,555.36 L932.28,555.41 L933.56,555.46 L934.83,555.51 L936.11,555.56 L937.38,555.61 L938.66,555.65 L939.93,555.69 L941.21,555.73 L942.49,555.77 L943.76,555.81 L945.04,555.84 L946.32,555.88 L947.59,555.91 L948.87,555.94 L950.15,555.97 L951.42,555.99 L952.70,556.02 L953.98,556.04 L955.25,556.07 L956.53,556.09 L957.81,556.11 L959.09,556.13 L960.36,556.15 L961.64,556.17 L962.92,556.18 L964.20,556.20 L965.47,556.22 L966.75,556.23 L968.03,556.24 L969.31,556.26 L970.59,556.27 L971.86,556.28 L973.14,556.29 L974.42,556.30 L975.70,556.31 L976.98,556.32 L978.25,556.33 L979.53,556.34 L980.81,556.35 L982.09,556.35 L983.36,556.36 L984.64,556.37 L985.92,556.38 L987.20,556.39 L988.48,556.39 L989.75,556.40 L991.03,556.41 L992.31,556.42 L993.59,556.43 L994.87,556.44 L996.14,556.44 L997.42,556.45 L998.70,556.46 L999.98,556.47 L1001.25,556.49 L1002.53,556.50 L1003.81,556.51 L1005.08,556.52 L1006.36,556.54 L1007.64,556.55 L1008.91,556.57 L1010.19,556.58 L1011.47,556.60 L1012.74,556.62 L1014.02,556.64 L1015.30,556.66 L1016.57,556.68 L1017.85,556.70 L1019.12,556.72 L1020.40,556.75 L1021.68,556.77 L1022.95,556.80 L1024.23,556.83 L1025.50,556.86 L1026.78,556.89 L1028.05,556.93 L1029.33,556.96 L1030.60,557.00" stroke="#2c5cb6" stroke-width="4" stroke-dasharray="28.2 9.6" stroke-dashoffset="1.3"/>
<path d="M120.40,15.60 L180.45,15.65 L181.83,15.73 L183.22,15.83 L184.59,15.95 L185.97,16.11 L187.33,16.31 L188.68,16.54 L190.02,16.81 L191.35,17.11 L192.66,17.46 L193.95,17.84 L195.23,18.26 L196.49,18.72 L197.73,19.22 L198.94,19.76 L200.13,20.34 L201.29,20.96 L202.43,21.62 L203.55,22.32 L204.63,23.06 L205.70,23.83 L206.74,24.64 L207.75,25.49 L208.75,26.36 L209.72,27.27 L210.67,28.21 L211.59,29.18 L212.50,30.17 L213.39,31.20 L214.25,32.25 L215.10,33.32 L215.93,34.42 L216.74,35.54 L217.53,36.69 L218.31,37.85 L219.07,39.03 L219.81,40.23 L220.54,41.44 L221.25,42.67 L221.95,43.92 L222.63,45.18 L223.30,46.45 L223.95,47.73 L224.60,49.02 L225.23,50.32 L225.85,51.62 L226.46,52.94 L227.05,54.25 L227.64,55.57 L228.22,56.90 L228.79,58.22 L229.35,59.55 L229.90,60.87 L230.44,62.19 L230.98,63.52 L231.51,64.84 L232.03,66.15 L232.55,67.47 L233.06,68.79 L233.56,70.10 L234.05,71.41 L234.54,72.72 L235.02,74.04 L235.50,75.35 L235.97,76.65 L236.44,77.96 L236.89,79.27 L237.35,80.57 L237.80,81.88 L238.24,83.18 L238.68,84.49 L239.11,85.79 L239.54,87.09 L239.97,88.40 L240.39,89.70 L240.81,91.00 L241.22,92.30 L241.63,93.60 L242.04,94.90 L242.44,96.20 L242.84,97.50 L243.24,98.79 L243.63,100.09 L244.02,101.39 L244.41,102.69 L244.80,103.99 L245.18,105.29 L245.56,106.59 L245.94,107.89 L246.32,109.19 L246.70,110.48 L247.07,111.78 L247.45,113.08 L247.82,114.38 L248.20,115.69 L248.57,116.99 L248.94,118.29 L249.31,119.59 L249.69,120.90 L250.06,122.20 L250.43,123.50 L250.80,124.81 L251.18,126.12 L251.55,127.42 L251.92,128.73 L252.30,130.04 L252.68,131.35 L253.06,132.66 L253.44,133.97 L253.82,135.29 L254.20,136.60 L254.59,137.92 L254.98,139.24 L255.37,140.55 L255.76,141.87 L256.16,143.20 L256.55,144.52 L256.95,145.84 L257.35,147.17 L257.76,148.49 L258.16,149.82 L258.57,151.15 L258.97,152.48 L259.38,153.81 L259.79,155.14 L260.19,156.47 L260.60,157.81 L261.01,159.14 L261.42,160.48 L261.82,161.81 L262.23,163.15 L262.63,164.48 L263.04,165.82 L263.44,167.16 L263.84,168.50 L264.24,169.84 L264.64,171.18 L265.04,172.52 L265.43,173.86 L265.83,175.20 L266.22,176.54 L266.60,177.88 L266.99,179.22 L267.37,180.56 L267.75,181.90 L268.12,183.25 L268.49,184.59 L268.86,185.93 L269.22,187.27 L269.58,188.61 L269.93,189.95 L270.28,191.30 L270.63,192.64 L270.97,193.98 L271.31,195.32 L271.64,196.66 L271.97,198.00 L272.29,199.34 L272.62,200.68 L272.94,202.02 L273.25,203.36 L273.57,204.70 L273.88,206.04 L274.19,207.38 L274.49,208.72 L274.80,210.06 L275.10,211.40 L275.40,212.74 L275.70,214.08 L276.00,215.42 L276.30,216.76 L276.59,218.10 L276.89,219.44 L277.19,220.79 L277.48,222.13 L277.78,223.47 L278.07,224.81 L278.37,226.15 L278.67,227.49 L278.96,228.84 L279.26,230.18 L279.56,231.52 L279.85,232.86 L280.15,234.21 L280.45,235.55 L280.75,236.89 L281.05,238.24 L281.34,239.58 L281.64,240.92 L281.94,242.27 L282.24,243.61 L282.54,244.96 L282.84,246.30 L283.14,247.65 L283.44,248.99 L283.75,250.33 L284.05,251.68 L284.35,253.02 L284.65,254.37 L284.96,255.71 L285.26,257.06 L285.56,258.40 L285.87,259.75 L286.17,261.09 L286.48,262.44 L286.79,263.78 L287.09,265.13 L287.40,266.47 L287.71,267.82 L288.02,269.16 L288.33,270.51 L288.64,271.86 L288.95,273.20 L289.26,274.55 L289.57,275.89 L289.88,277.24 L290.20,278.58 L290.51,279.92 L290.82,281.27 L291.14,282.61 L291.46,283.96 L291.77,285.30 L292.09,286.65 L292.41,287.99 L292.73,289.34 L293.05,290.68 L293.37,292.02 L293.69,293.37 L294.01,294.71 L294.33,296.05 L294.66,297.40 L294.98,298.74 L295.31,300.08 L295.63,301.43 L295.96,302.77 L296.29,304.11 L296.62,305.45 L296.95,306.80 L297.28,308.14 L297.61,309.48 L297.94,310.82 L298.28,312.16 L298.61,313.50 L298.95,314.84 L299.28,316.18 L299.62,317.52 L299.96,318.86 L300.30,320.20 L300.64,321.54 L300.98,322.88 L301.33,324.22 L301.67,325.56 L302.02,326.89 L302.36,328.23 L302.71,329.57 L303.06,330.91 L303.41,332.24 L303.76,333.58 L304.11,334.92 L304.46,336.25 L304.82,337.59 L305.18,338.92 L305.53,340.26 L305.89,341.59 L306.25,342.92 L306.61,344.26 L306.97,345.59 L307.34,346.92 L307.70,348.25 L308.07,349.58 L308.44,350.92 L308.80,352.25 L309.17,353.58 L309.55,354.91 L309.92,356.24 L310.29,357.56 L310.67,358.89 L311.05,360.22 L311.42,361.55 L311.80,362.87 L312.19,364.20 L312.57,365.53 L312.95,366.85 L313.34,368.18 L313.73,369.50 L314.12,370.82 L314.51,372.15 L314.90,373.47 L315.29,374.79 L315.69,376.11 L316.08,377.43 L316.48,378.75 L316.88,380.07 L317.28,381.39 L317.69,382.71 L318.09,384.03 L318.49,385.35 L318.90,386.66 L319.31,387.98 L319.71,389.30 L320.12,390.61 L320.53,391.93 L320.94,393.25 L321.35,394.56 L321.76,395.88 L322.16,397.20 L322.57,398.51 L322.98,399.83 L323.39,401.15 L323.79,402.47 L324.20,403.78 L324.60,405.10 L325.01,406.42 L325.41,407.74 L325.81,409.06 L326.21,410.38 L326.61,411.70 L327.01,413.02 L327.41,414.34 L327.80,415.67 L328.19,416.99 L328.58,418.32 L328.97,419.64 L329.36,420.97 L329.74,422.30 L330.12,423.63 L330.50,424.96 L330.87,426.29 L331.25,427.62 L331.62,428.95 L332.00,430.28 L332.37,431.61 L332.75,432.95 L333.12,434.28 L333.50,435.61 L333.88,436.94 L334.26,438.27 L334.64,439.60 L335.03,440.92 L335.42,442.25 L335.82,443.57 L336.22,444.90 L336.63,446.22 L337.04,447.53 L337.45,448.85 L337.88,450.16 L338.31,451.48 L338.75,452.78 L339.19,454.09 L339.65,455.39 L340.11,456.69 L340.58,457.99 L341.06,459.28 L341.55,460.57 L342.05,461.85 L342.55,463.13 L343.07,464.41 L343.59,465.69 L344.12,466.96 L344.66,468.23 L345.21,469.49 L345.76,470.75 L346.32,472.01 L346.89,473.27 L347.47,474.52 L348.05,475.77 L348.64,477.01 L349.24,478.26 L349.85,479.50 L350.46,480.73 L351.08,481.96 L351.70,483.19 L352.34,484.42 L352.98,485.64 L353.62,486.86 L354.27,488.08 L354.93,489.29 L355.59,490.50 L356.26,491.71 L356.94,492.91 L357.62,494.11 L358.30,495.31 L358.99,496.50 L359.69,497.70 L360.39,498.88 L361.10,500.07 L361.81,501.25 L362.53,502.43 L363.25,503.61 L363.98,504.78 L364.72,505.95 L365.45,507.12 L366.20,508.28 L366.94,509.44 L367.70,510.60 L368.45,511.75 L369.21,512.91 L369.98,514.06 L370.75,515.20 L371.52,516.34 L372.30,517.49 L373.09,518.62 L373.88,519.75 L374.67,520.88 L375.48,522.01 L376.28,523.12 L377.10,524.24 L377.92,525.34 L378.75,526.44 L379.59,527.53 L380.44,528.62 L381.30,529.70 L382.16,530.77 L383.04,531.83 L383.93,532.88 L384.82,533.92 L385.73,534.95 L386.65,535.98 L387.59,536.99 L388.53,537.99 L389.49,538.98 L390.46,539.95 L391.44,540.92 L392.44,541.87 L393.45,542.81 L394.48,543.73 L395.52,544.64 L396.58,545.54 L397.65,546.42 L398.74,547.29 L399.85,548.14 L400.96,548.97 L402.09,549.79 L403.24,550.59 L404.39,551.38 L405.56,552.15 L406.74,552.90 L407.93,553.63 L409.13,554.35 L410.34,555.05 L411.56,555.72 L412.79,556.38 L414.02,557.02 L415.27,557.64 L416.52,558.24 L417.78,558.82 L419.05,559.38 L420.32,559.91 L421.59,560.43 L422.87,560.92 L424.16,561.40 L425.45,561.85 L426.75,562.29 L428.05,562.70 L429.36,563.10 L430.67,563.48 L431.98,563.84 L433.30,564.19 L434.62,564.52 L435.95,564.83 L437.28,565.13 L438.61,565.42 L439.95,565.68 L441.29,565.94 L442.64,566.18 L443.99,566.41 L445.34,566.62 L446.69,566.83 L448.05,567.02 L449.41,567.20 L450.77,567.37 L452.13,567.53 L453.50,567.68 L454.87,567.82 L456.24,567.95 L457.61,568.07 L458.99,568.19 L460.36,568.30 L461.74,568.40 L463.12,568.49 L464.50,568.58 L465.88,568.67 L467.26,568.74 L468.65,568.82 L470.03,568.89 L471.41,568.95 L472.80,569.02 L474.18,569.08 L475.57,569.14 L476.96,569.19 L478.34,569.25 L479.73,569.30 L481.11,569.36 L482.50,569.41 L483.88,569.46 L485.27,569.51 L486.65,569.56 L488.04,569.61 L489.42,569.66 L490.80,569.71 L492.19,569.75 L493.57,569.80 L494.96,569.84 L496.34,569.88 L497.72,569.93 L499.11,569.97 L500.49,570.01 L501.88,570.05 L503.26,570.09 L504.64,570.13 L506.03,570.16 L507.41,570.20 L508.79,570.23 L510.18,570.27 L511.56,570.30 L512.94,570.34 L514.32,570.37 L515.71,570.40 L517.09,570.43 L518.47,570.46 L519.86,570.49 L521.24,570.52 L522.62,570.54 L524.00,570.57 L525.38,570.60 L526.77,570.62 L528.15,570.65 L529.53,570.67 L530.91,570.69 L532.29,570.72 L533.68,570.74 L535.06,570.76 L536.44,570.78 L537.82,570.80 L539.20,570.82 L540.58,570.84 L541.97,570.86 L543.35,570.87 L544.73,570.89 L546.11,570.91 L547.49,570.92 L548.87,570.94 L550.25,570.95 L551.63,570.96 L553.01,570.98 L554.39,570.99 L555.78,571.00 L557.16,571.01 L558.54,571.03 L559.92,571.04 L561.30,571.05 L562.68,571.06 L564.06,571.06 L565.44,571.07 L566.82,571.08 L568.20,571.09 L569.58,571.10 L570.96,571.10 L572.34,571.11 L573.72,571.11 L575.10,571.12 L576.48,571.12 L577.86,571.13 L579.24,571.13 L580.62,571.14 L582.00,571.14 L583.38,571.14 L584.76,571.14 L586.14,571.15 L587.52,571.15 L588.90,571.15 L590.28,571.15 L591.66,571.15 L593.04,571.15 L594.42,571.15 L595.80,571.15 L597.18,571.15 L598.56,571.15 L599.94,571.15 L601.32,571.15 L602.70,571.15 L604.08,571.15 L605.46,571.15 L606.83,571.15 L608.21,571.15 L609.59,571.15 L610.97,571.15 L612.35,571.15 L613.73,571.15 L615.11,571.15 L616.49,571.15 L617.87,571.15 L619.25,571.15 L620.63,571.15 L622.01,571.15 L623.39,571.15 L624.77,571.15 L626.15,571.15 L627.53,571.15 L628.90,571.15 L630.28,571.15 L631.66,571.15 L633.04,571.15 L634.42,571.15 L635.80,571.15 L637.18,571.15 L638.56,571.15 L639.94,571.15 L641.32,571.15 L642.70,571.15 L644.08,571.15 L645.46,571.15 L646.84,571.15 L648.21,571.15 L649.59,571.15 L650.97,571.15 L652.35,571.15 L653.73,571.15 L655.11,571.15 L656.49,571.15 L657.87,571.15 L659.25,571.15 L660.63,571.15 L662.01,571.15 L663.39,571.15 L664.77,571.15 L666.15,571.15 L667.53,571.15 L668.91,571.15 L670.29,571.15 L671.67,571.15 L673.05,571.15 L674.43,571.15 L675.80,571.15 L677.18,571.15 L678.56,571.15 L679.94,571.15 L681.32,571.15 L682.70,571.15 L684.08,571.15 L685.46,571.15 L686.84,571.15 L688.22,571.15 L689.60,571.15 L690.98,571.15 L692.36,571.15 L693.74,571.15 L695.12,571.15 L696.50,571.15 L697.88,571.15 L699.26,571.15 L700.64,571.15 L702.02,571.15 L703.40,571.15 L704.78,571.15 L706.16,571.15 L707.54,571.15 L708.92,571.15 L710.30,571.15 L711.68,571.15 L713.06,571.15 L714.44,571.15 L715.82,571.15 L717.20,571.15 L718.58,571.15 L719.97,571.15 L721.35,571.15 L722.73,571.15 L724.11,571.15 L725.49,571.15 L726.87,571.15 L728.25,571.15 L729.63,571.15 L731.01,571.15 L732.39,571.15 L733.77,571.15 L735.15,571.15 L736.53,571.15 L737.91,571.15 L739.29,571.15 L740.67,571.15 L742.05,571.15 L743.43,571.15 L744.81,571.15 L746.19,571.15 L747.57,571.15 L748.95,571.15 L750.33,571.15 L751.71,571.15 L753.10,571.15 L754.48,571.15 L755.86,571.15 L757.24,571.15 L758.62,571.15 L760.00,571.15 L761.38,571.15 L762.76,571.15 L764.14,571.15 L765.52,571.15 L766.90,571.15 L768.28,571.15 L769.66,571.15 L771.04,571.15 L772.42,571.15 L773.81,571.15 L775.19,571.15 L776.57,571.15 L777.95,571.15 L779.33,571.15 L780.71,571.15 L782.09,571.15 L783.47,571.15 L784.85,571.15 L786.23,571.15 L787.61,571.15 L788.99,571.15 L790.37,571.15 L791.76,571.15 L793.14,571.15 L794.52,571.15 L795.90,571.15 L797.28,571.15 L798.66,571.15 L800.04,571.15 L801.42,571.15 L802.80,571.15 L804.18,571.15 L805.56,571.15 L806.95,571.15 L808.33,571.15 L809.71,571.15 L811.09,571.15 L812.47,571.15 L813.85,571.15 L815.23,571.15 L816.61,571.15 L817.99,571.15 L819.37,571.15 L820.75,571.15 L822.14,571.15 L823.52,571.15 L824.90,571.15 L826.28,571.15 L827.66,571.15 L829.04,571.15 L830.42,571.15 L831.80,571.15 L833.18,571.15 L834.56,571.15 L835.94,571.15 L837.33,571.15 L838.71,571.15 L840.09,571.15 L841.47,571.15 L842.85,571.15 L844.23,571.15 L845.61,571.15 L846.99,571.15 L848.37,571.15 L849.75,571.15 L851.14,571.15 L852.52,571.15 L853.90,571.15 L855.28,571.15 L856.66,571.15 L858.04,571.15 L859.42,571.15 L860.80,571.15 L862.18,571.15 L863.56,571.15 L864.94,571.15 L866.33,571.15 L867.71,571.15 L869.09,571.15 L870.47,571.15 L871.85,571.15 L873.23,571.15 L874.61,571.15 L875.99,571.15 L877.37,571.15 L878.75,571.15 L880.14,571.15 L881.52,571.15 L882.90,571.15 L884.28,571.15 L885.66,571.15 L887.04,571.15 L888.42,571.15 L889.80,571.15 L891.18,571.15 L892.56,571.15 L893.94,571.15 L895.33,571.15 L896.71,571.15 L898.09,571.15 L899.47,571.15 L900.85,571.15 L902.23,571.15 L903.61,571.15 L904.99,571.15 L906.37,571.15 L907.75,571.15 L909.13,571.15 L910.51,571.15 L911.90,571.15 L913.28,571.15 L914.66,571.15 L916.04,571.15 L917.42,571.15 L918.80,571.15 L920.18,571.15 L921.56,571.15 L922.94,571.15 L924.32,571.15 L925.70,571.15 L927.08,571.15 L928.46,571.15 L929.85,571.15 L931.23,571.15 L932.61,571.15 L933.99,571.15 L935.37,571.15 L936.75,571.15 L938.13,571.15 L939.51,571.15 L940.89,571.15 L942.27,571.15 L943.65,571.15 L945.03,571.15 L946.41,571.15 L947.79,571.15 L949.17,571.15 L950.55,571.15 L951.93,571.15 L953.32,571.15 L954.70,571.15 L956.08,571.15 L957.46,571.15 L958.84,571.15 L960.22,571.15 L961.60,571.15 L962.98,571.15 L964.36,571.15 L965.74,571.15 L967.12,571.15 L968.50,571.15 L969.88,571.15 L971.26,571.15 L972.64,571.15 L974.02,571.15 L975.40,571.15 L976.78,571.15 L978.16,571.15 L979.54,571.15 L980.92,571.15 L982.30,571.15 L983.68,571.15 L985.06,571.15 L986.44,571.15 L987.82,571.15 L989.20,571.15 L990.58,571.15 L991.96,571.15 L993.34,571.15 L994.72,571.15 L996.10,571.15 L997.48,571.15 L998.86,571.15 L1000.24,571.15 L1001.62,571.15 L1003.00,571.15 L1004.38,571.15 L1005.76,571.15 L1007.14,571.15 L1008.52,571.15 L1009.90,571.15 L1011.28,571.15 L1012.66,571.15 L1014.04,571.15 L1015.42,571.15 L1016.80,571.15 L1018.18,571.15 L1019.56,571.15 L1020.94,571.15 L1022.32,571.15 L1023.70,571.15 L1025.08,571.15 L1026.46,571.15 L1027.84,571.15 L1029.22,571.15 L1030.60,571.00" stroke="#18e008" stroke-width="4" stroke-dasharray="28.6 18.5" stroke-dashoffset="-4"/>
<path d="M120.40,15.60 L183.26,15.64 L184.58,15.70 L185.90,15.80 L187.21,15.92 L188.52,16.08 L189.83,16.28 L191.12,16.53 L192.42,16.82 L193.70,17.16 L194.97,17.54 L196.23,17.96 L197.48,18.42 L198.71,18.92 L199.92,19.46 L201.11,20.04 L202.29,20.65 L203.44,21.30 L204.57,21.98 L205.67,22.70 L206.74,23.45 L207.79,24.23 L208.81,25.04 L209.80,25.89 L210.77,26.75 L211.72,27.65 L212.64,28.57 L213.54,29.52 L214.41,30.49 L215.27,31.48 L216.10,32.50 L216.92,33.53 L217.71,34.59 L218.49,35.66 L219.25,36.75 L219.99,37.85 L220.72,38.97 L221.44,40.11 L222.13,41.26 L222.82,42.41 L223.49,43.58 L224.15,44.76 L224.80,45.95 L225.44,47.15 L226.07,48.35 L226.70,49.55 L227.31,50.76 L227.92,51.98 L228.52,53.19 L229.11,54.41 L229.70,55.62 L230.29,56.83 L230.87,58.04 L231.45,59.25 L232.02,60.46 L232.60,61.67 L233.17,62.87 L233.73,64.07 L234.29,65.27 L234.85,66.47 L235.40,67.67 L235.95,68.87 L236.50,70.07 L237.04,71.28 L237.58,72.48 L238.11,73.68 L238.64,74.88 L239.17,76.08 L239.69,77.29 L240.21,78.50 L240.72,79.70 L241.23,80.92 L241.73,82.13 L242.23,83.35 L242.72,84.56 L243.21,85.78 L243.70,87.01 L244.18,88.23 L244.66,89.46 L245.13,90.69 L245.60,91.92 L246.07,93.15 L246.53,94.38 L246.99,95.62 L247.44,96.86 L247.90,98.10 L248.34,99.34 L248.79,100.59 L249.23,101.83 L249.67,103.08 L250.10,104.33 L250.53,105.58 L250.96,106.83 L251.38,108.08 L251.81,109.34 L252.22,110.59 L252.64,111.85 L253.05,113.11 L253.46,114.37 L253.87,115.63 L254.28,116.89 L254.68,118.16 L255.08,119.42 L255.48,120.69 L255.88,121.95 L256.27,123.22 L256.66,124.49 L257.05,125.76 L257.44,127.03 L257.82,128.30 L258.21,129.57 L258.59,130.85 L258.97,132.12 L259.35,133.40 L259.72,134.67 L260.10,135.95 L260.47,137.22 L260.85,138.50 L261.22,139.78 L261.59,141.05 L261.96,142.33 L262.32,143.61 L262.69,144.89 L263.06,146.17 L263.42,147.44 L263.78,148.72 L264.15,150.00 L264.51,151.28 L264.87,152.56 L265.23,153.84 L265.59,155.12 L265.95,156.40 L266.31,157.68 L266.67,158.96 L267.03,160.24 L267.39,161.51 L267.75,162.79 L268.11,164.07 L268.47,165.35 L268.83,166.63 L269.19,167.90 L269.54,169.18 L269.90,170.46 L270.26,171.73 L270.62,173.01 L270.98,174.29 L271.33,175.56 L271.69,176.84 L272.05,178.12 L272.40,179.39 L272.76,180.67 L273.12,181.94 L273.47,183.22 L273.83,184.50 L274.18,185.77 L274.54,187.05 L274.89,188.32 L275.25,189.60 L275.60,190.87 L275.96,192.15 L276.31,193.43 L276.67,194.70 L277.02,195.98 L277.38,197.25 L277.73,198.53 L278.08,199.80 L278.44,201.08 L278.79,202.35 L279.14,203.63 L279.49,204.91 L279.85,206.18 L280.20,207.46 L280.55,208.73 L280.90,210.01 L281.25,211.28 L281.60,212.56 L281.95,213.84 L282.30,215.11 L282.66,216.39 L283.01,217.67 L283.35,218.94 L283.70,220.22 L284.05,221.50 L284.40,222.77 L284.75,224.05 L285.10,225.33 L285.45,226.61 L285.80,227.88 L286.14,229.16 L286.49,230.44 L286.84,231.72 L287.18,233.00 L287.53,234.28 L287.88,235.56 L288.22,236.84 L288.57,238.12 L288.91,239.40 L289.26,240.68 L289.60,241.96 L289.95,243.24 L290.29,244.52 L290.64,245.80 L290.98,247.08 L291.33,248.36 L291.67,249.65 L292.01,250.93 L292.35,252.21 L292.70,253.49 L293.04,254.78 L293.38,256.06 L293.72,257.34 L294.07,258.63 L294.41,259.91 L294.75,261.19 L295.09,262.48 L295.43,263.76 L295.77,265.04 L296.11,266.33 L296.45,267.61 L296.79,268.89 L297.13,270.18 L297.47,271.46 L297.81,272.75 L298.15,274.03 L298.49,275.31 L298.83,276.60 L299.17,277.88 L299.51,279.16 L299.85,280.45 L300.19,281.73 L300.53,283.01 L300.87,284.30 L301.21,285.58 L301.55,286.86 L301.89,288.15 L302.22,289.43 L302.56,290.71 L302.90,291.99 L303.24,293.27 L303.58,294.56 L303.92,295.84 L304.26,297.12 L304.60,298.40 L304.93,299.68 L305.27,300.96 L305.61,302.24 L305.95,303.52 L306.29,304.80 L306.63,306.08 L306.97,307.36 L307.31,308.64 L307.65,309.92 L307.99,311.20 L308.34,312.47 L308.68,313.75 L309.03,315.03 L309.37,316.30 L309.72,317.58 L310.07,318.85 L310.43,320.12 L310.78,321.40 L311.14,322.67 L311.50,323.94 L311.86,325.21 L312.23,326.48 L312.60,327.75 L312.97,329.01 L313.34,330.28 L313.72,331.55 L314.10,332.81 L314.49,334.07 L314.88,335.34 L315.27,336.60 L315.67,337.86 L316.07,339.12 L316.48,340.37 L316.89,341.63 L317.30,342.89 L317.73,344.14 L318.15,345.39 L318.58,346.64 L319.02,347.89 L319.46,349.14 L319.90,350.39 L320.35,351.64 L320.81,352.88 L321.26,354.13 L321.72,355.37 L322.18,356.61 L322.65,357.86 L323.11,359.10 L323.58,360.34 L324.05,361.58 L324.52,362.82 L324.99,364.06 L325.46,365.30 L325.93,366.54 L326.41,367.79 L326.88,369.03 L327.35,370.27 L327.82,371.51 L328.29,372.75 L328.76,373.99 L329.22,375.24 L329.69,376.48 L330.15,377.72 L330.62,378.97 L331.08,380.21 L331.54,381.45 L332.00,382.70 L332.47,383.94 L332.93,385.18 L333.39,386.43 L333.85,387.67 L334.31,388.91 L334.78,390.16 L335.24,391.40 L335.70,392.64 L336.17,393.88 L336.64,395.12 L337.10,396.36 L337.57,397.60 L338.04,398.84 L338.52,400.08 L338.99,401.32 L339.47,402.55 L339.95,403.79 L340.43,405.02 L340.91,406.26 L341.40,407.49 L341.88,408.72 L342.38,409.95 L342.87,411.18 L343.37,412.40 L343.87,413.63 L344.37,414.85 L344.88,416.08 L345.40,417.30 L345.91,418.52 L346.43,419.73 L346.96,420.95 L347.49,422.16 L348.02,423.37 L348.56,424.58 L349.10,425.79 L349.65,427.00 L350.20,428.20 L350.76,429.40 L351.32,430.60 L351.89,431.80 L352.47,432.99 L353.05,434.19 L353.64,435.38 L354.23,436.56 L354.83,437.75 L355.44,438.93 L356.05,440.11 L356.67,441.28 L357.30,442.46 L357.93,443.63 L358.58,444.79 L359.23,445.95 L359.89,447.11 L360.55,448.26 L361.23,449.41 L361.91,450.55 L362.61,451.68 L363.31,452.81 L364.03,453.93 L364.75,455.04 L365.49,456.14 L366.23,457.24 L366.99,458.33 L367.76,459.41 L368.54,460.48 L369.33,461.54 L370.13,462.60 L370.95,463.64 L371.78,464.67 L372.62,465.69 L373.47,466.70 L374.34,467.70 L375.22,468.69 L376.11,469.66 L377.02,470.63 L377.93,471.59 L378.86,472.53 L379.80,473.46 L380.74,474.38 L381.70,475.30 L382.68,476.20 L383.66,477.08 L384.65,477.96 L385.65,478.83 L386.66,479.68 L387.69,480.53 L388.72,481.36 L389.76,482.18 L390.81,482.99 L391.87,483.78 L392.94,484.57 L394.02,485.34 L395.10,486.10 L396.20,486.85 L397.30,487.59 L398.41,488.32 L399.53,489.03 L400.66,489.73 L401.80,490.43 L402.94,491.10 L404.09,491.77 L405.25,492.42 L406.41,493.07 L407.58,493.70 L408.76,494.31 L409.94,494.92 L411.13,495.51 L412.33,496.09 L413.53,496.66 L414.74,497.21 L415.95,497.76 L417.17,498.29 L418.39,498.81 L419.62,499.31 L420.86,499.80 L422.10,500.29 L423.34,500.75 L424.59,501.21 L425.84,501.65 L427.10,502.08 L428.36,502.50 L429.62,502.90 L430.89,503.29 L432.17,503.67 L433.44,504.04 L434.72,504.39 L436.01,504.73 L437.29,505.06 L438.58,505.38 L439.87,505.68 L441.17,505.97 L442.46,506.24 L443.76,506.50 L445.06,506.75 L446.37,506.99 L447.67,507.22 L448.98,507.43 L450.29,507.63 L451.60,507.82 L452.91,507.99 L454.23,508.16 L455.54,508.32 L456.86,508.47 L458.18,508.60 L459.50,508.73 L460.82,508.85 L462.14,508.97 L463.46,509.07 L464.79,509.17 L466.11,509.26 L467.44,509.34 L468.77,509.42 L470.10,509.49 L471.42,509.55 L472.75,509.61 L474.08,509.67 L475.41,509.72 L476.75,509.77 L478.08,509.82 L479.41,509.86 L480.74,509.90 L482.07,509.93 L483.40,509.97 L484.74,510.00 L486.07,510.03 L487.40,510.07 L488.73,510.10 L490.06,510.13 L491.39,510.16 L492.73,510.20 L494.06,510.23 L495.39,510.27 L496.71,510.31 L498.04,510.35 L499.37,510.39 L500.70,510.44 L502.02,510.49 L503.35,510.55 L504.67,510.61 L505.99,510.67 L507.32,510.75 L508.64,510.82 L509.96,510.90 L511.27,510.99 L512.59,511.09 L513.91,511.19 L515.22,511.30 L516.53,511.42 L517.84,511.55 L519.15,511.69 L520.45,511.84 L521.76,511.99 L523.06,512.16 L524.36,512.33 L525.66,512.52 L526.96,512.72 L528.25,512.93 L529.54,513.16 L530.83,513.40 L532.11,513.65 L533.39,513.92 L534.67,514.20 L535.94,514.50 L537.20,514.82 L538.46,515.16 L539.72,515.52 L540.97,515.90 L542.21,516.30 L543.44,516.72 L544.67,517.16 L545.89,517.63 L547.10,518.13 L548.31,518.64 L549.50,519.19 L550.69,519.76 L551.86,520.36 L553.03,520.98 L554.20,521.61 L555.36,522.26 L556.53,522.90 L557.69,523.55 L558.85,524.20 L560.02,524.84 L561.20,525.46 L562.38,526.06 L563.57,526.64 L564.77,527.19 L565.98,527.72 L567.20,528.23 L568.43,528.71 L569.67,529.17 L570.91,529.61 L572.16,530.03 L573.42,530.42 L574.69,530.80 L575.96,531.17 L577.24,531.51 L578.52,531.84 L579.81,532.15 L581.10,532.44 L582.40,532.73 L583.70,533.00 L585.01,533.25 L586.31,533.50 L587.62,533.73 L588.94,533.96 L590.25,534.17 L591.56,534.38 L592.88,534.58 L594.20,534.77 L595.52,534.96 L596.84,535.13 L598.16,535.31 L599.48,535.47 L600.80,535.63 L602.12,535.79 L603.44,535.94 L604.77,536.09 L606.09,536.23 L607.41,536.37 L608.74,536.50 L610.06,536.64 L611.39,536.77 L612.71,536.90 L614.04,537.03 L615.36,537.15 L616.69,537.28 L618.01,537.41 L619.34,537.53 L620.66,537.66 L621.98,537.79 L623.31,537.91 L624.63,538.04 L625.95,538.18 L627.27,538.31 L628.59,538.45 L629.91,538.59 L631.23,538.73 L632.55,538.88 L633.87,539.03 L635.18,539.19 L636.50,539.35 L637.81,539.52 L639.12,539.70 L640.44,539.88 L641.75,540.06 L643.05,540.26 L644.36,540.46 L645.67,540.67 L646.97,540.89 L648.27,541.11 L649.57,541.35 L650.87,541.59 L652.17,541.85 L653.46,542.11 L654.75,542.39 L656.04,542.68 L657.33,542.98 L658.62,543.28 L659.90,543.60 L661.18,543.93 L662.46,544.27 L663.74,544.61 L665.02,544.96 L666.30,545.31 L667.57,545.67 L668.85,546.04 L670.12,546.41 L671.40,546.77 L672.67,547.15 L673.95,547.52 L675.22,547.89 L676.50,548.26 L677.77,548.63 L679.05,548.99 L680.32,549.35 L681.60,549.71 L682.88,550.06 L684.16,550.41 L685.44,550.75 L686.72,551.08 L688.01,551.40 L689.29,551.72 L690.58,552.02 L691.87,552.31 L693.17,552.60 L694.46,552.87 L695.76,553.13 L697.06,553.38 L698.36,553.63 L699.66,553.86 L700.96,554.09 L702.27,554.31 L703.57,554.52 L704.88,554.73 L706.19,554.93 L707.50,555.12 L708.81,555.31 L710.13,555.50 L711.44,555.67 L712.75,555.85 L714.07,556.02 L715.38,556.18 L716.70,556.34 L718.01,556.50 L719.33,556.66 L720.65,556.82 L721.96,556.97 L723.28,557.12 L724.60,557.27 L725.91,557.41 L727.23,557.56 L728.55,557.70 L729.87,557.84 L731.18,557.98 L732.50,558.12 L733.82,558.25 L735.14,558.39 L736.46,558.52 L737.78,558.65 L739.10,558.77 L740.41,558.90 L741.73,559.02 L743.05,559.14 L744.37,559.26 L745.69,559.38 L747.01,559.50 L748.33,559.61 L749.65,559.73 L750.97,559.84 L752.30,559.95 L753.62,560.06 L754.94,560.17 L756.26,560.27 L757.58,560.37 L758.90,560.48 L760.22,560.58 L761.54,560.68 L762.87,560.77 L764.19,560.87 L765.51,560.97 L766.83,561.06 L768.16,561.15 L769.48,561.24 L770.80,561.33 L772.12,561.42 L773.45,561.51 L774.77,561.59 L776.09,561.67 L777.42,561.76 L778.74,561.84 L780.06,561.92 L781.39,562.00 L782.71,562.08 L784.03,562.15 L785.36,562.23 L786.68,562.30 L788.00,562.38 L789.33,562.45 L790.65,562.52 L791.98,562.59 L793.30,562.66 L794.63,562.73 L795.95,562.80 L797.28,562.86 L798.60,562.93 L799.93,562.99 L801.25,563.06 L802.58,563.12 L803.90,563.18 L805.23,563.24 L806.55,563.30 L807.88,563.36 L809.20,563.42 L810.53,563.48 L811.85,563.54 L813.18,563.59 L814.50,563.65 L815.83,563.70 L817.15,563.76 L818.48,563.81 L819.81,563.86 L821.13,563.92 L822.46,563.97 L823.78,564.02 L825.11,564.07 L826.43,564.12 L827.76,564.17 L829.09,564.22 L830.41,564.27 L831.74,564.32 L833.06,564.37 L834.39,564.42 L835.72,564.46 L837.04,564.51 L838.37,564.56 L839.69,564.60 L841.02,564.65 L842.35,564.69 L843.67,564.74 L845.00,564.79 L846.32,564.83 L847.65,564.88 L848.98,564.92 L850.30,564.97 L851.63,565.01 L852.95,565.05 L854.28,565.10 L855.61,565.14 L856.93,565.19 L858.26,565.23 L859.58,565.27 L860.91,565.32 L862.24,565.36 L863.56,565.41 L864.89,565.45 L866.21,565.50 L867.54,565.54 L868.87,565.58 L870.19,565.63 L871.52,565.67 L872.84,565.72 L874.17,565.76 L875.49,565.81 L876.82,565.85 L878.14,565.90 L879.47,565.94 L880.80,565.98 L882.12,566.03 L883.45,566.07 L884.77,566.12 L886.10,566.16 L887.42,566.21 L888.75,566.25 L890.07,566.29 L891.40,566.34 L892.72,566.38 L894.05,566.42 L895.37,566.47 L896.70,566.51 L898.02,566.55 L899.35,566.60 L900.67,566.64 L902.00,566.68 L903.33,566.72 L904.65,566.77 L905.98,566.81 L907.30,566.85 L908.63,566.89 L909.95,566.93 L911.28,566.97 L912.60,567.02 L913.93,567.06 L915.25,567.10 L916.58,567.14 L917.90,567.18 L919.23,567.22 L920.55,567.25 L921.88,567.29 L923.20,567.33 L924.53,567.37 L925.85,567.41 L927.18,567.45 L928.50,567.48 L929.83,567.52 L931.15,567.56 L932.48,567.59 L933.80,567.63 L935.13,567.66 L936.45,567.70 L937.78,567.73 L939.10,567.77 L940.43,567.80 L941.75,567.83 L943.08,567.87 L944.40,567.90 L945.73,567.93 L947.05,567.96 L948.38,567.99 L949.70,568.02 L951.03,568.05 L952.36,568.08 L953.68,568.11 L955.01,568.14 L956.33,568.17 L957.66,568.19 L958.98,568.22 L960.31,568.25 L961.63,568.27 L962.96,568.30 L964.28,568.32 L965.61,568.35 L966.93,568.37 L968.26,568.39 L969.59,568.41 L970.91,568.43 L972.24,568.46 L973.56,568.48 L974.89,568.49 L976.21,568.51 L977.54,568.53 L978.86,568.55 L980.19,568.57 L981.52,568.58 L982.84,568.60 L984.17,568.61 L985.49,568.62 L986.82,568.64 L988.15,568.65 L989.47,568.66 L990.80,568.67 L992.12,568.68 L993.45,568.69 L994.78,568.70 L996.10,568.71 L997.43,568.71 L998.75,568.72 L1000.08,568.73 L1001.41,568.73 L1002.73,568.73 L1004.06,568.74 L1005.39,568.74 L1006.71,568.74 L1008.04,568.74 L1009.37,568.74 L1010.69,568.74 L1012.02,568.74 L1013.35,568.74 L1014.67,568.74 L1016.00,568.74 L1017.33,568.74 L1018.65,568.74 L1019.98,568.74 L1021.31,568.74 L1022.64,568.74 L1023.96,568.74 L1025.29,568.74 L1026.62,568.74 L1027.95,568.74 L1029.27,568.74 L1030.60,568.60" stroke="#05b3c9" stroke-width="4.1" stroke-dasharray="19 3 2.7 3" stroke-dashoffset="7.8"/>
</g>
<path d="M122.50,585.05 v-11.2 M122.50,1.85 v11.2 M152.72,585.05 v-6.8 M152.72,1.85 v6.8 M182.93,585.05 v-6.8 M182.93,1.85 v6.8 M213.14,585.05 v-6.8 M213.14,1.85 v6.8 M243.36,585.05 v-11.2 M243.36,1.85 v11.2 M273.57,585.05 v-6.8 M273.57,1.85 v6.8 M303.79,585.05 v-6.8 M303.79,1.85 v6.8 M334.00,585.05 v-6.8 M334.00,1.85 v6.8 M364.22,585.05 v-11.2 M364.22,1.85 v11.2 M394.44,585.05 v-6.8 M394.44,1.85 v6.8 M424.65,585.05 v-6.8 M424.65,1.85 v6.8 M454.87,585.05 v-6.8 M454.87,1.85 v6.8 M485.08,585.05 v-11.2 M485.08,1.85 v11.2 M515.30,585.05 v-6.8 M515.30,1.85 v6.8 M545.51,585.05 v-6.8 M545.51,1.85 v6.8 M575.73,585.05 v-6.8 M575.73,1.85 v6.8 M605.94,585.05 v-11.2 M605.94,1.85 v11.2 M636.15,585.05 v-6.8 M636.15,1.85 v6.8 M666.37,585.05 v-6.8 M666.37,1.85 v6.8 M696.59,585.05 v-6.8 M696.59,1.85 v6.8 M726.80,585.05 v-11.2 M726.80,1.85 v11.2 M757.01,585.05 v-6.8 M757.01,1.85 v6.8 M787.23,585.05 v-6.8 M787.23,1.85 v6.8 M817.45,585.05 v-6.8 M817.45,1.85 v6.8 M847.66,585.05 v-11.2 M847.66,1.85 v11.2 M877.88,585.05 v-6.8 M877.88,1.85 v6.8 M908.09,585.05 v-6.8 M908.09,1.85 v6.8 M938.30,585.05 v-6.8 M938.30,1.85 v6.8 M968.52,585.05 v-11.2 M968.52,1.85 v11.2 M998.74,585.05 v-6.8 M998.74,1.85 v6.8 M1028.95,585.05 v-6.8 M1028.95,1.85 v6.8 M103.5,570.85 h11.4 M1047.7,570.85 h-11.4 M103.5,543.09 h6.9 M1047.7,543.09 h-6.9 M103.5,515.33 h6.9 M1047.7,515.33 h-6.9 M103.5,487.56 h6.9 M1047.7,487.56 h-6.9 M103.5,459.80 h11.4 M1047.7,459.80 h-11.4 M103.5,432.04 h6.9 M1047.7,432.04 h-6.9 M103.5,404.27 h6.9 M1047.7,404.27 h-6.9 M103.5,376.51 h6.9 M1047.7,376.51 h-6.9 M103.5,348.75 h11.4 M1047.7,348.75 h-11.4 M103.5,320.99 h6.9 M1047.7,320.99 h-6.9 M103.5,293.23 h6.9 M1047.7,293.23 h-6.9 M103.5,265.46 h6.9 M1047.7,265.46 h-6.9 M103.5,237.70 h11.4 M1047.7,237.70 h-11.4 M103.5,209.94 h6.9 M1047.7,209.94 h-6.9 M103.5,182.18 h6.9 M1047.7,182.18 h-6.9 M103.5,154.41 h6.9 M1047.7,154.41 h-6.9 M103.5,126.65 h11.4 M1047.7,126.65 h-11.4 M103.5,98.89 h6.9 M1047.7,98.89 h-6.9 M103.5,71.12 h6.9 M1047.7,71.12 h-6.9 M103.5,43.36 h6.9 M1047.7,43.36 h-6.9 M103.5,15.60 h11.4 M1047.7,15.60 h-11.4" stroke="#000" stroke-width="2.5" fill="none"/>
<rect x="103.5" y="1.85" width="944.2" height="583.1999999999999" fill="none" stroke="#000" stroke-width="2.6"/>
<g class="tk gs"><text x="122.50" y="623.6" text-anchor="middle">0</text><text x="243.36" y="623.6" text-anchor="middle">2</text><text x="364.22" y="623.6" text-anchor="middle">4</text><text x="485.08" y="623.6" text-anchor="middle">6</text><text x="605.94" y="623.6" text-anchor="middle">8</text><text x="726.80" y="623.6" text-anchor="middle">10</text><text x="847.66" y="623.6" text-anchor="middle">12</text><text x="968.52" y="623.6" text-anchor="middle">14</text><text x="94.7" y="582.68" text-anchor="end">0.0</text><text x="94.7" y="471.63" text-anchor="end">0.2</text><text x="94.7" y="360.58" text-anchor="end">0.4</text><text x="94.7" y="249.53" text-anchor="end">0.6</text><text x="94.7" y="138.48" text-anchor="end">0.8</text><text x="94.7" y="27.43" text-anchor="end">1.0</text></g>
<!-- legend -->
<g fill="none" stroke-width="4">
<path d="M657.5,41.9 H792.5" stroke="#000"/>
<path d="M657.5,88.8 H792.5" stroke="#18e008" stroke-dasharray="29 6.1"/>
<path d="M657.5,135.6 H792.5" stroke="#4ab2d9" stroke-width="3.6" stroke-dasharray="2.6 2.6 18.2 2.6" />
<path d="M657.5,182 H792.5" stroke="#2c5ec6" stroke-width="3.7" stroke-dasharray="29 6.25"/>
<path d="M657.5,228.9 H792.5" stroke="#959595" stroke-width="3.7"/>
</g>
<g class="gs" fill="#000"><text transform="translate(818.17,51.70) scale(1.1986,1)" style='font-family:"Liberation Serif",serif;font-style:italic;font-size:29.50px;'>W</text><text transform="translate(849.10,51.70) scale(1.0952,1)" style='font-family:"Liberation Serif",serif;font-style:italic;font-size:29.50px;'>i</text><text transform="translate(859.40,51.70) scale(1.0814,1)" style='font-family:"Liberation Serif",serif;font-style:italic;font-size:29.50px;'>t</text><text transform="translate(871.82,51.70) scale(1.2922,1)" style='font-family:"Liberation Serif",serif;font-style:italic;font-size:29.50px;'>h</text><text transform="translate(890.32,51.70) scale(1.0006,1)" style='font-family:"Liberation Serif",serif;font-style:italic;font-size:29.50px;'>o</text><text transform="translate(906.18,51.70) scale(1.1707,1)" style='font-family:"Liberation Serif",serif;font-style:italic;font-size:29.50px;'>u</text><text transform="translate(923.81,51.70) scale(1.1482,1)" style='font-family:"Liberation Serif",serif;font-style:italic;font-size:29.50px;'>t</text><text transform="translate(949.35,51.70) scale(1.0236,1)" style='font-family:"Liberation Serif",serif;font-style:italic;font-size:29.50px;'>A</text><text transform="translate(972.76,51.70) scale(1.2341,1)" style='font-family:"Liberation Serif",serif;font-style:italic;font-size:29.50px;'>B</text><text transform="translate(995.92,51.70) scale(1.2071,1)" style='font-family:"Liberation Serif",serif;font-style:italic;font-size:29.50px;'>C</text><text transform="translate(813.66,93.80) scale(1.2323,1)" style='font-family:"Liberation Serif",serif;font-style:italic;font-size:31.81px;'>κ</text><rect x="845.20" y="81.00" width="22.90" height="1.8" fill="#000"/><rect x="845.20" y="88.20" width="22.90" height="1.8" fill="#000"/><text transform="translate(880.56,93.80) scale(1.2323,1)" style='font-family:"Liberation Serif",serif;font-style:italic;font-size:31.81px;'>κ</text><text transform="translate(900.35,97.38) scale(1.3586,1)" style='font-family:"Liberation Serif",serif;font-size:22.23px;'>0</text><text transform="translate(813.56,144.00) scale(1.2323,1)" style='font-family:"Liberation Serif",serif;font-style:italic;font-size:31.81px;'>κ</text><rect x="845.30" y="131.20" width="22.90" height="1.8" fill="#000"/><rect x="845.30" y="138.40" width="22.90" height="1.8" fill="#000"/><text transform="translate(879.74,144.00) scale(1.1011,1)" style='font-family:"Liberation Serif",serif;font-size:32.17px;'>2</text><text transform="translate(897.20,144.00) scale(1.2046,1)" style='font-family:"Liberation Serif",serif;font-style:italic;font-size:31.81px;'>κ</text><text transform="translate(917.17,147.58) scale(1.4542,1)" style='font-family:"Liberation Serif",serif;font-size:22.23px;'>0</text><text transform="translate(813.56,190.40) scale(1.2323,1)" style='font-family:"Liberation Serif",serif;font-style:italic;font-size:31.81px;'>κ</text><rect x="845.30" y="177.60" width="22.90" height="1.8" fill="#000"/><rect x="845.30" y="184.80" width="22.90" height="1.8" fill="#000"/><text transform="translate(879.59,190.48) scale(1.1042,1)" style='font-family:"Liberation Serif",serif;font-size:32.45px;'>3</text><text transform="translate(897.20,190.40) scale(1.2046,1)" style='font-family:"Liberation Serif",serif;font-style:italic;font-size:31.81px;'>κ</text><text transform="translate(917.17,193.98) scale(1.4542,1)" style='font-family:"Liberation Serif",serif;font-size:22.23px;'>0</text><text transform="translate(813.56,236.90) scale(1.2323,1)" style='font-family:"Liberation Serif",serif;font-style:italic;font-size:31.81px;'>κ</text><rect x="845.00" y="224.10" width="23.30" height="1.8" fill="#000"/><rect x="845.00" y="231.30" width="23.30" height="1.8" fill="#000"/><text transform="translate(880.76,236.90) scale(1.2392,1)" style='font-family:"Liberation Serif",serif;font-style:italic;font-size:31.81px;'>κ</text><text transform="translate(899.58,240.48) scale(1.4436,1)" style='font-family:"Liberation Serif",serif;font-size:22.23px;'>0</text><path d="M931.3,212.5 L920.4,244.3" stroke="#000" stroke-width="1.7" fill="none"/><text transform="translate(934.05,236.89) scale(1.1585,1)" style='font-family:"Liberation Serif",serif;font-size:31.55px;'>3</text></g>
<g class="gs" fill="#000"><text transform="translate(536.91,681.60) scale(1.1086,1)" style='font-family:"Liberation Serif",serif;font-style:italic;font-size:40.86px;'>t</text><text transform="translate(565.81,681.60) scale(1.4584,1)" style='font-family:"Liberation Serif",serif;font-style:italic;font-size:32.05px;'>m</text><text transform="translate(601.09,681.69) scale(1.3068,1)" style='font-family:"Liberation Serif",serif;font-style:italic;font-size:32.23px;'>s</text><text transform="translate(553.68,683.04) scale(0.8251,1)" style='font-family:"Liberation Serif",serif;font-size:42px'>(</text><text transform="translate(618.52,683.04) scale(0.8714,1)" style='font-family:"Liberation Serif",serif;font-size:42px'>)</text></g>
<g class="gs" fill="#000"><text transform="translate(24.60,460.46) rotate(-90) scale(1.2151,1)" style='font-family:"Liberation Serif",serif;font-size:34.0px'>Survival probability</text></g>
</svg>
</body></html>
